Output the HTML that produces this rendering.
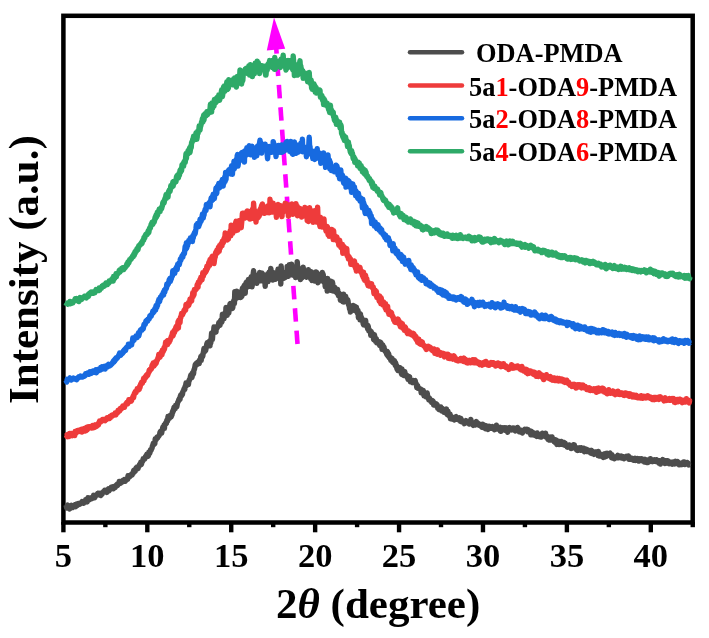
<!DOCTYPE html>
<html><head><meta charset="utf-8"><style>
html,body{margin:0;padding:0;background:#fff;}
body{width:709px;height:638px;overflow:hidden;position:relative;}
svg{position:absolute;left:0;top:0;will-change:transform;}
.tl{font-family:"Liberation Serif",serif;font-weight:bold;font-size:34.5px;fill:#000;}
.ax{font-family:"Liberation Serif",serif;font-weight:bold;font-size:43px;fill:#000;}
.lg{font-family:"Liberation Serif",serif;font-weight:bold;font-size:26.4px;fill:#000;}
.r{fill:#ff0000;}
</style></head><body>
<svg width="709" height="638" viewBox="0 0 709 638">
<rect x="63.4" y="15.8" width="629.3" height="506.7" fill="none" stroke="#000" stroke-width="4.5"/>
<line x1="63.40" y1="522" x2="63.40" y2="532.3" stroke="#000" stroke-width="4.4"/>
<line x1="105.36" y1="522" x2="105.36" y2="527.2" stroke="#000" stroke-width="4.4"/>
<line x1="147.31" y1="522" x2="147.31" y2="532.3" stroke="#000" stroke-width="4.4"/>
<line x1="189.27" y1="522" x2="189.27" y2="527.2" stroke="#000" stroke-width="4.4"/>
<line x1="231.23" y1="522" x2="231.23" y2="532.3" stroke="#000" stroke-width="4.4"/>
<line x1="273.19" y1="522" x2="273.19" y2="527.2" stroke="#000" stroke-width="4.4"/>
<line x1="315.14" y1="522" x2="315.14" y2="532.3" stroke="#000" stroke-width="4.4"/>
<line x1="357.10" y1="522" x2="357.10" y2="527.2" stroke="#000" stroke-width="4.4"/>
<line x1="399.06" y1="522" x2="399.06" y2="532.3" stroke="#000" stroke-width="4.4"/>
<line x1="441.01" y1="522" x2="441.01" y2="527.2" stroke="#000" stroke-width="4.4"/>
<line x1="482.97" y1="522" x2="482.97" y2="532.3" stroke="#000" stroke-width="4.4"/>
<line x1="524.93" y1="522" x2="524.93" y2="527.2" stroke="#000" stroke-width="4.4"/>
<line x1="566.89" y1="522" x2="566.89" y2="532.3" stroke="#000" stroke-width="4.4"/>
<line x1="608.84" y1="522" x2="608.84" y2="527.2" stroke="#000" stroke-width="4.4"/>
<line x1="650.80" y1="522" x2="650.80" y2="532.3" stroke="#000" stroke-width="4.4"/>
<line x1="692.76" y1="522" x2="692.76" y2="527.2" stroke="#000" stroke-width="4.4"/>
<text x="63.40" y="566.8" text-anchor="middle" class="tl">5</text>
<text x="147.31" y="566.8" text-anchor="middle" class="tl">10</text>
<text x="231.23" y="566.8" text-anchor="middle" class="tl">15</text>
<text x="315.14" y="566.8" text-anchor="middle" class="tl">20</text>
<text x="399.06" y="566.8" text-anchor="middle" class="tl">25</text>
<text x="482.97" y="566.8" text-anchor="middle" class="tl">30</text>
<text x="566.89" y="566.8" text-anchor="middle" class="tl">35</text>
<text x="650.80" y="566.8" text-anchor="middle" class="tl">40</text>
<line x1="276.20" y1="48.00" x2="276.61" y2="53.70" stroke="#ff00ff" stroke-width="4.6"/>
<line x1="277.25" y1="62.63" x2="278.21" y2="76.03" stroke="#ff00ff" stroke-width="4.6"/>
<line x1="278.86" y1="84.96" x2="279.82" y2="98.36" stroke="#ff00ff" stroke-width="4.6"/>
<line x1="280.46" y1="107.29" x2="281.43" y2="120.69" stroke="#ff00ff" stroke-width="4.6"/>
<line x1="282.07" y1="129.62" x2="283.04" y2="143.02" stroke="#ff00ff" stroke-width="4.6"/>
<line x1="283.68" y1="151.95" x2="284.65" y2="165.35" stroke="#ff00ff" stroke-width="4.6"/>
<line x1="285.29" y1="174.28" x2="286.25" y2="187.68" stroke="#ff00ff" stroke-width="4.6"/>
<line x1="286.90" y1="196.61" x2="287.86" y2="210.01" stroke="#ff00ff" stroke-width="4.6"/>
<line x1="288.50" y1="218.94" x2="289.47" y2="232.34" stroke="#ff00ff" stroke-width="4.6"/>
<line x1="290.11" y1="241.27" x2="291.08" y2="254.67" stroke="#ff00ff" stroke-width="4.6"/>
<line x1="291.72" y1="263.60" x2="292.68" y2="277.00" stroke="#ff00ff" stroke-width="4.6"/>
<line x1="293.33" y1="285.93" x2="294.29" y2="299.33" stroke="#ff00ff" stroke-width="4.6"/>
<line x1="294.93" y1="308.26" x2="295.90" y2="321.66" stroke="#ff00ff" stroke-width="4.6"/>
<line x1="296.54" y1="330.59" x2="297.51" y2="343.99" stroke="#ff00ff" stroke-width="4.6"/>
<polygon points="274,17.5 285.2,48.8 266.8,50.6" fill="#ff00ff"/>
<path d="M66.0,505.1 L66.4,506.5 L66.8,508.1 L67.2,505.7 L67.6,505.2 L68.0,506.8 L68.4,507.8 L68.8,507.2 L69.2,507.8 L69.6,509.0 L70.0,506.0 L70.4,507.0 L70.8,505.7 L71.2,507.3 L71.6,505.3 L72.0,505.6 L72.4,506.8 L72.8,507.4 L73.2,506.6 L73.6,506.7 L74.0,506.4 L74.4,505.6 L74.8,504.8 L75.2,506.3 L75.6,506.7 L76.0,506.2 L76.4,505.9 L76.8,503.9 L77.2,504.6 L77.6,505.2 L78.0,504.1 L78.4,503.5 L78.8,503.6 L79.2,504.2 L79.6,503.6 L80.0,504.1 L80.4,502.9 L80.8,502.9 L81.2,503.4 L81.6,502.2 L82.0,501.7 L82.4,502.3 L82.8,501.8 L83.2,501.9 L83.6,503.2 L84.0,502.6 L84.4,502.0 L84.8,501.9 L85.2,501.5 L85.6,499.8 L86.0,500.2 L86.4,500.5 L86.8,500.5 L87.2,501.9 L87.6,500.3 L88.0,497.7 L88.4,499.6 L88.8,499.0 L89.2,499.9 L89.6,498.5 L90.0,498.0 L90.4,499.1 L90.8,498.0 L91.2,498.7 L91.6,498.3 L92.0,498.5 L92.4,498.2 L92.8,497.2 L93.2,497.2 L93.6,495.3 L94.0,497.7 L94.4,497.2 L94.8,497.6 L95.2,496.6 L95.6,496.0 L96.0,495.1 L96.4,495.4 L96.8,495.2 L97.2,494.6 L97.6,493.6 L98.0,494.2 L98.4,493.2 L98.8,494.2 L99.2,493.6 L99.6,493.4 L100.0,495.1 L100.4,494.9 L100.8,495.5 L101.2,494.2 L101.6,493.5 L102.0,494.4 L102.4,492.7 L102.8,492.4 L103.2,492.2 L103.6,491.4 L104.0,491.2 L104.4,490.8 L104.8,490.1 L105.2,490.1 L105.6,491.0 L106.0,490.5 L106.4,490.7 L106.8,492.4 L107.2,491.4 L107.6,491.2 L108.0,489.7 L108.4,488.9 L108.8,490.4 L109.2,490.6 L109.6,489.8 L110.0,489.1 L110.4,489.0 L110.8,488.6 L111.2,487.3 L111.6,487.9 L112.0,488.0 L112.4,487.8 L112.8,486.9 L113.2,488.8 L113.6,487.6 L114.0,487.3 L114.4,487.7 L114.8,486.8 L115.2,487.4 L115.6,485.7 L116.0,485.3 L116.4,485.0 L116.8,485.7 L117.2,484.3 L117.6,485.4 L118.0,484.2 L118.4,484.1 L118.8,483.4 L119.2,481.5 L119.6,483.7 L120.0,482.4 L120.4,481.9 L120.8,483.1 L121.2,482.1 L121.6,481.9 L122.0,482.0 L122.4,480.8 L122.8,481.8 L123.2,480.2 L123.6,481.2 L124.0,480.4 L124.4,479.7 L124.8,481.1 L125.2,481.2 L125.6,479.8 L126.0,479.4 L126.4,480.1 L126.8,478.7 L127.2,478.5 L127.6,479.4 L128.0,475.8 L128.4,477.1 L128.8,477.2 L129.2,476.4 L129.6,475.7 L130.0,476.6 L130.4,476.0 L130.8,474.9 L131.2,474.6 L131.6,474.1 L132.0,475.1 L132.4,474.2 L132.8,473.3 L133.2,473.2 L133.6,470.7 L134.0,470.1 L134.4,470.0 L134.8,470.3 L135.2,471.2 L135.6,469.8 L136.0,468.1 L136.4,469.2 L136.8,468.7 L137.2,467.0 L137.6,468.0 L138.0,468.6 L138.4,467.1 L138.8,466.7 L139.2,465.7 L139.6,464.4 L140.0,464.8 L140.4,464.7 L140.8,462.2 L141.2,464.6 L141.6,463.7 L142.0,461.4 L142.4,461.1 L142.8,461.2 L143.2,458.6 L143.6,459.6 L144.0,459.1 L144.4,459.2 L144.8,459.0 L145.2,457.0 L145.6,457.4 L146.0,455.9 L146.4,455.5 L146.8,454.3 L147.2,454.3 L147.6,454.4 L148.0,456.3 L148.4,455.7 L148.8,452.3 L149.2,453.3 L149.6,453.4 L150.0,452.4 L150.4,450.0 L150.8,450.5 L151.2,450.0 L151.6,448.5 L152.0,448.4 L152.4,446.0 L152.8,445.8 L153.2,443.6 L153.6,445.0 L154.0,443.1 L154.4,443.0 L154.8,443.9 L155.2,439.0 L155.6,439.4 L156.0,439.7 L156.4,439.2 L156.8,437.5 L157.2,437.0 L157.6,437.9 L158.0,436.6 L158.4,436.5 L158.8,436.2 L159.2,435.3 L159.6,434.7 L160.0,432.3 L160.4,431.6 L160.8,432.8 L161.2,432.4 L161.6,433.1 L162.0,431.1 L162.4,429.5 L162.8,427.3 L163.2,429.2 L163.6,428.5 L164.0,425.2 L164.4,428.4 L164.8,424.4 L165.2,424.5 L165.6,422.9 L166.0,423.0 L166.4,423.3 L166.8,420.3 L167.2,419.6 L167.6,421.1 L168.0,416.4 L168.4,419.1 L168.8,418.6 L169.2,418.5 L169.6,418.0 L170.0,416.9 L170.4,415.2 L170.8,416.7 L171.2,416.8 L171.6,415.4 L172.0,415.0 L172.4,411.8 L172.8,412.4 L173.2,409.8 L173.6,410.8 L174.0,407.4 L174.4,407.0 L174.8,407.3 L175.2,408.7 L175.6,405.5 L176.0,406.5 L176.4,405.7 L176.8,406.7 L177.2,404.6 L177.6,402.7 L178.0,401.9 L178.4,401.2 L178.8,399.7 L179.2,398.9 L179.6,398.0 L180.0,399.5 L180.4,395.9 L180.8,394.9 L181.2,394.6 L181.6,395.9 L182.0,393.5 L182.4,394.5 L182.8,392.1 L183.2,391.1 L183.6,390.5 L184.0,388.8 L184.4,389.5 L184.8,389.5 L185.2,386.1 L185.6,386.2 L186.0,383.0 L186.4,385.7 L186.8,385.0 L187.2,382.9 L187.6,383.4 L188.0,384.4 L188.4,384.5 L188.8,381.7 L189.2,379.9 L189.6,380.0 L190.0,378.9 L190.4,376.6 L190.8,375.1 L191.2,376.3 L191.6,377.5 L192.0,377.5 L192.4,373.0 L192.8,372.4 L193.2,374.5 L193.6,373.3 L194.0,369.5 L194.4,369.5 L194.8,367.3 L195.2,364.9 L195.6,364.0 L196.0,364.3 L196.4,363.2 L196.8,364.8 L197.2,363.8 L197.6,362.3 L198.0,362.5 L198.4,362.0 L198.8,363.4 L199.2,363.5 L199.6,360.1 L200.0,359.5 L200.4,359.9 L200.8,356.7 L201.2,360.4 L201.6,355.9 L202.0,357.7 L202.4,354.9 L202.8,356.2 L203.2,353.2 L203.6,350.9 L204.0,348.4 L204.4,351.9 L204.8,348.1 L205.2,349.8 L205.6,350.6 L206.0,348.7 L206.4,346.6 L206.8,344.0 L207.2,342.8 L207.6,344.0 L208.0,344.0 L208.4,342.8 L208.8,343.1 L209.2,341.5 L209.6,345.1 L210.0,345.7 L210.4,340.1 L210.8,343.1 L211.2,338.6 L211.6,333.0 L212.0,333.9 L212.4,339.5 L212.8,334.2 L213.2,332.4 L213.6,331.7 L214.0,327.0 L214.4,330.3 L214.8,332.4 L215.2,331.2 L215.6,330.3 L216.0,332.1 L216.4,326.6 L216.8,328.4 L217.2,327.9 L217.6,327.1 L218.0,325.4 L218.4,325.4 L218.8,322.7 L219.2,322.8 L219.6,324.9 L220.0,325.2 L220.4,321.4 L220.8,320.2 L221.2,320.8 L221.6,322.4 L222.0,321.6 L222.4,314.1 L222.8,314.6 L223.2,314.4 L223.6,315.1 L224.0,318.6 L224.4,314.7 L224.8,316.5 L225.2,313.9 L225.6,314.2 L226.0,307.4 L226.4,310.1 L226.8,309.8 L227.2,315.4 L227.6,310.6 L228.0,309.6 L228.4,312.2 L228.8,313.0 L229.2,308.4 L229.6,306.0 L230.0,304.0 L230.4,303.5 L230.8,306.3 L231.2,306.5 L231.6,303.6 L232.0,307.8 L232.4,308.3 L232.8,307.4 L233.2,303.4 L233.6,301.4 L234.0,300.1 L234.4,303.6 L234.8,291.8 L235.2,299.7 L235.6,295.5 L236.0,293.4 L236.4,296.4 L236.8,291.3 L237.2,297.7 L237.6,297.2 L238.0,297.1 L238.4,294.5 L238.8,293.7 L239.2,296.9 L239.6,295.7 L240.0,295.0 L240.4,297.6 L240.8,296.0 L241.2,297.2 L241.6,290.7 L242.0,296.0 L242.4,288.1 L242.8,289.1 L243.2,289.3 L243.6,286.7 L244.0,291.1 L244.4,285.2 L244.8,286.9 L245.2,293.3 L245.6,284.6 L246.0,282.8 L246.4,286.6 L246.8,281.9 L247.2,285.1 L247.6,283.1 L248.0,286.8 L248.4,279.4 L248.8,286.2 L249.2,282.2 L249.6,283.1 L250.0,282.2 L250.4,282.1 L250.8,282.2 L251.2,276.6 L251.6,281.0 L252.0,286.8 L252.4,283.9 L252.8,284.0 L253.2,273.9 L253.6,270.8 L254.0,278.1 L254.4,274.2 L254.8,282.9 L255.2,277.7 L255.6,280.3 L256.0,279.6 L256.4,283.2 L256.8,283.3 L257.2,278.0 L257.6,279.5 L258.0,281.3 L258.4,276.6 L258.8,279.1 L259.2,277.9 L259.6,272.5 L260.0,278.6 L260.4,280.8 L260.8,276.7 L261.2,280.8 L261.6,274.8 L262.0,273.2 L262.4,273.7 L262.8,274.3 L263.2,277.4 L263.6,279.2 L264.0,275.1 L264.4,282.1 L264.8,280.9 L265.2,286.3 L265.6,277.5 L266.0,278.9 L266.4,276.0 L266.8,280.1 L267.2,276.4 L267.6,274.0 L268.0,281.6 L268.4,277.9 L268.8,278.7 L269.2,272.0 L269.6,276.5 L270.0,271.1 L270.4,277.4 L270.8,268.4 L271.2,271.9 L271.6,279.5 L272.0,272.3 L272.4,277.2 L272.8,280.0 L273.2,272.4 L273.6,278.6 L274.0,273.2 L274.4,275.8 L274.8,275.8 L275.2,279.4 L275.6,276.2 L276.0,276.3 L276.4,273.3 L276.8,275.3 L277.2,277.4 L277.6,272.6 L278.0,269.3 L278.4,274.8 L278.8,277.1 L279.2,276.1 L279.6,278.8 L280.0,277.5 L280.4,273.5 L280.8,284.0 L281.2,266.0 L281.6,275.0 L282.0,278.8 L282.4,273.3 L282.8,273.4 L283.2,276.2 L283.6,272.5 L284.0,278.4 L284.4,276.1 L284.8,272.9 L285.2,277.6 L285.6,272.9 L286.0,272.4 L286.4,276.1 L286.8,275.7 L287.2,266.4 L287.6,270.7 L288.0,271.0 L288.4,276.4 L288.8,271.6 L289.2,264.6 L289.6,265.4 L290.0,268.8 L290.4,273.0 L290.8,272.0 L291.2,268.7 L291.6,264.1 L292.0,273.2 L292.4,274.9 L292.8,272.8 L293.2,267.8 L293.6,271.0 L294.0,274.7 L294.4,268.9 L294.8,270.3 L295.2,275.1 L295.6,277.5 L296.0,268.4 L296.4,269.2 L296.8,272.4 L297.2,261.6 L297.6,266.2 L298.0,267.4 L298.4,271.4 L298.8,277.2 L299.2,275.1 L299.6,276.2 L300.0,274.3 L300.4,279.6 L300.8,278.4 L301.2,278.4 L301.6,278.1 L302.0,276.1 L302.4,274.1 L302.8,276.1 L303.2,267.1 L303.6,272.7 L304.0,275.0 L304.4,275.3 L304.8,271.2 L305.2,275.9 L305.6,272.3 L306.0,273.1 L306.4,277.3 L306.8,271.3 L307.2,274.2 L307.6,275.8 L308.0,273.6 L308.4,269.7 L308.8,275.8 L309.2,274.9 L309.6,274.5 L310.0,277.4 L310.4,277.6 L310.8,279.1 L311.2,271.6 L311.6,278.3 L312.0,280.4 L312.4,278.9 L312.8,280.2 L313.2,277.0 L313.6,276.2 L314.0,273.0 L314.4,273.2 L314.8,281.0 L315.2,275.0 L315.6,274.5 L316.0,271.9 L316.4,277.1 L316.8,272.5 L317.2,275.1 L317.6,277.2 L318.0,282.7 L318.4,273.9 L318.8,278.8 L319.2,281.0 L319.6,278.2 L320.0,276.9 L320.4,279.2 L320.8,280.8 L321.2,275.6 L321.6,275.3 L322.0,276.9 L322.4,272.5 L322.8,275.7 L323.2,274.4 L323.6,278.5 L324.0,280.6 L324.4,282.6 L324.8,279.1 L325.2,286.6 L325.6,281.1 L326.0,280.6 L326.4,283.3 L326.8,284.5 L327.2,291.1 L327.6,278.4 L328.0,287.0 L328.4,281.3 L328.8,286.3 L329.2,289.2 L329.6,284.7 L330.0,286.9 L330.4,290.2 L330.8,281.3 L331.2,283.8 L331.6,286.5 L332.0,287.7 L332.4,282.0 L332.8,284.1 L333.2,291.1 L333.6,288.6 L334.0,289.2 L334.4,287.6 L334.8,287.5 L335.2,291.5 L335.6,288.4 L336.0,289.1 L336.4,291.6 L336.8,292.8 L337.2,291.8 L337.6,289.5 L338.0,293.2 L338.4,295.6 L338.8,293.4 L339.2,293.2 L339.6,294.9 L340.0,296.8 L340.4,300.2 L340.8,297.5 L341.2,295.1 L341.6,295.8 L342.0,298.6 L342.4,299.1 L342.8,301.7 L343.2,297.9 L343.6,294.3 L344.0,302.0 L344.4,300.0 L344.8,301.5 L345.2,301.5 L345.6,296.1 L346.0,300.3 L346.4,298.3 L346.8,302.0 L347.2,300.3 L347.6,299.7 L348.0,300.9 L348.4,304.2 L348.8,305.2 L349.2,306.2 L349.6,309.0 L350.0,306.4 L350.4,312.1 L350.8,306.6 L351.2,310.0 L351.6,306.9 L352.0,306.1 L352.4,308.2 L352.8,309.8 L353.2,305.5 L353.6,309.7 L354.0,305.9 L354.4,310.6 L354.8,306.1 L355.2,308.6 L355.6,308.7 L356.0,310.4 L356.4,307.1 L356.8,311.7 L357.2,311.9 L357.6,313.5 L358.0,310.5 L358.4,317.6 L358.8,313.7 L359.2,317.5 L359.6,313.4 L360.0,319.9 L360.4,313.9 L360.8,317.7 L361.2,316.9 L361.6,320.3 L362.0,318.4 L362.4,320.4 L362.8,321.6 L363.2,323.9 L363.6,324.7 L364.0,324.4 L364.4,325.0 L364.8,321.4 L365.2,321.9 L365.6,320.4 L366.0,323.7 L366.4,325.1 L366.8,324.9 L367.2,326.6 L367.6,328.8 L368.0,325.5 L368.4,327.2 L368.8,330.9 L369.2,331.0 L369.6,331.3 L370.0,330.6 L370.4,331.7 L370.8,335.4 L371.2,331.5 L371.6,333.5 L372.0,333.1 L372.4,334.6 L372.8,334.0 L373.2,335.0 L373.6,339.6 L374.0,339.9 L374.4,334.6 L374.8,338.7 L375.2,337.4 L375.6,341.4 L376.0,341.0 L376.4,338.9 L376.8,342.9 L377.2,341.3 L377.6,341.7 L378.0,341.5 L378.4,342.1 L378.8,343.6 L379.2,343.8 L379.6,345.4 L380.0,342.0 L380.4,344.3 L380.8,342.3 L381.2,344.9 L381.6,343.7 L382.0,349.4 L382.4,348.8 L382.8,344.9 L383.2,347.5 L383.6,347.4 L384.0,347.1 L384.4,349.9 L384.8,350.7 L385.2,351.3 L385.6,351.8 L386.0,352.0 L386.4,353.1 L386.8,354.6 L387.2,351.4 L387.6,352.0 L388.0,356.3 L388.4,353.4 L388.8,354.3 L389.2,357.6 L389.6,357.5 L390.0,357.2 L390.4,358.1 L390.8,360.3 L391.2,358.0 L391.6,359.1 L392.0,358.3 L392.4,361.9 L392.8,362.3 L393.2,360.4 L393.6,362.6 L394.0,362.5 L394.4,360.7 L394.8,362.4 L395.2,365.4 L395.6,362.6 L396.0,365.1 L396.4,365.0 L396.8,368.1 L397.2,369.4 L397.6,368.8 L398.0,370.6 L398.4,369.8 L398.8,367.7 L399.2,369.4 L399.6,368.5 L400.0,367.6 L400.4,371.3 L400.8,369.2 L401.2,373.0 L401.6,374.2 L402.0,369.0 L402.4,372.4 L402.8,374.9 L403.2,373.0 L403.6,373.3 L404.0,375.5 L404.4,373.8 L404.8,371.7 L405.2,375.7 L405.6,375.3 L406.0,374.7 L406.4,374.9 L406.8,375.5 L407.2,377.3 L407.6,377.0 L408.0,379.3 L408.4,378.7 L408.8,377.7 L409.2,376.6 L409.6,376.8 L410.0,380.1 L410.4,381.8 L410.8,380.0 L411.2,380.1 L411.6,381.4 L412.0,381.6 L412.4,382.6 L412.8,381.8 L413.2,381.8 L413.6,380.6 L414.0,381.4 L414.4,382.7 L414.8,380.8 L415.2,380.6 L415.6,383.3 L416.0,383.1 L416.4,384.6 L416.8,387.6 L417.2,386.0 L417.6,385.5 L418.0,388.4 L418.4,387.8 L418.8,388.0 L419.2,388.8 L419.6,388.8 L420.0,388.9 L420.4,389.5 L420.8,389.0 L421.2,392.9 L421.6,392.4 L422.0,391.6 L422.4,390.7 L422.8,391.2 L423.2,390.4 L423.6,393.5 L424.0,395.7 L424.4,393.2 L424.8,394.3 L425.2,393.8 L425.6,395.9 L426.0,396.7 L426.4,394.8 L426.8,395.3 L427.2,393.0 L427.6,396.0 L428.0,398.0 L428.4,397.2 L428.8,399.7 L429.2,399.4 L429.6,398.3 L430.0,400.1 L430.4,400.1 L430.8,401.3 L431.2,400.0 L431.6,402.4 L432.0,402.3 L432.4,400.6 L432.8,401.0 L433.2,401.4 L433.6,405.0 L434.0,404.2 L434.4,404.1 L434.8,405.0 L435.2,405.1 L435.6,404.7 L436.0,404.6 L436.4,403.8 L436.8,406.4 L437.2,404.9 L437.6,408.2 L438.0,407.2 L438.4,407.7 L438.8,409.5 L439.2,407.2 L439.6,408.3 L440.0,407.5 L440.4,410.0 L440.8,407.0 L441.2,408.3 L441.6,408.7 L442.0,410.9 L442.4,408.5 L442.8,409.2 L443.2,411.1 L443.6,410.8 L444.0,412.3 L444.4,411.7 L444.8,410.6 L445.2,412.0 L445.6,409.4 L446.0,410.2 L446.4,409.0 L446.8,414.0 L447.2,411.9 L447.6,414.8 L448.0,411.3 L448.4,414.2 L448.8,415.6 L449.2,413.8 L449.6,415.6 L450.0,414.0 L450.4,418.7 L450.8,417.6 L451.2,416.3 L451.6,418.3 L452.0,418.9 L452.4,418.2 L452.8,417.4 L453.2,418.9 L453.6,419.4 L454.0,418.7 L454.4,420.0 L454.8,417.6 L455.2,417.2 L455.6,416.8 L456.0,416.6 L456.4,419.4 L456.8,418.1 L457.2,418.2 L457.6,417.8 L458.0,418.4 L458.4,419.7 L458.8,417.9 L459.2,417.7 L459.6,419.2 L460.0,419.8 L460.4,421.3 L460.8,418.5 L461.2,419.6 L461.6,421.8 L462.0,420.4 L462.4,421.2 L462.8,421.4 L463.2,422.2 L463.6,421.8 L464.0,422.9 L464.4,423.7 L464.8,422.7 L465.2,422.2 L465.6,421.4 L466.0,420.6 L466.4,422.7 L466.8,422.6 L467.2,422.6 L467.6,421.6 L468.0,422.2 L468.4,422.3 L468.8,423.4 L469.2,424.0 L469.6,422.5 L470.0,422.5 L470.4,422.4 L470.8,419.4 L471.2,421.3 L471.6,422.9 L472.0,423.5 L472.4,424.0 L472.8,424.7 L473.2,425.3 L473.6,422.8 L474.0,424.3 L474.4,425.0 L474.8,423.1 L475.2,425.1 L475.6,422.9 L476.0,423.3 L476.4,421.6 L476.8,423.7 L477.2,424.2 L477.6,423.6 L478.0,423.3 L478.4,423.8 L478.8,425.2 L479.2,425.3 L479.6,424.2 L480.0,424.2 L480.4,424.9 L480.8,426.0 L481.2,425.6 L481.6,426.0 L482.0,427.2 L482.4,425.5 L482.8,424.4 L483.2,427.0 L483.6,426.3 L484.0,427.8 L484.4,426.2 L484.8,425.4 L485.2,426.8 L485.6,428.7 L486.0,425.6 L486.4,428.8 L486.8,428.6 L487.2,427.3 L487.6,428.8 L488.0,429.3 L488.4,427.2 L488.8,426.3 L489.2,426.3 L489.6,427.9 L490.0,427.9 L490.4,427.4 L490.8,427.3 L491.2,428.2 L491.6,427.5 L492.0,427.0 L492.4,426.6 L492.8,427.9 L493.2,427.8 L493.6,428.2 L494.0,428.5 L494.4,429.6 L494.8,427.6 L495.2,426.8 L495.6,428.5 L496.0,426.8 L496.4,425.2 L496.8,427.8 L497.2,429.1 L497.6,427.4 L498.0,428.1 L498.4,428.7 L498.8,428.1 L499.2,427.9 L499.6,427.7 L500.0,427.4 L500.4,431.2 L500.8,431.3 L501.2,430.4 L501.6,430.0 L502.0,429.7 L502.4,428.9 L502.8,427.9 L503.2,429.2 L503.6,429.2 L504.0,428.4 L504.4,427.9 L504.8,429.4 L505.2,430.2 L505.6,427.9 L506.0,430.0 L506.4,427.9 L506.8,428.2 L507.2,431.0 L507.6,432.2 L508.0,431.3 L508.4,430.7 L508.8,429.2 L509.2,428.8 L509.6,427.5 L510.0,428.9 L510.4,429.2 L510.8,429.2 L511.2,429.2 L511.6,429.8 L512.0,429.1 L512.4,429.5 L512.8,428.1 L513.2,428.9 L513.6,429.4 L514.0,428.1 L514.4,430.4 L514.8,430.5 L515.2,430.9 L515.6,429.1 L516.0,429.9 L516.4,430.4 L516.8,428.9 L517.2,430.1 L517.6,427.5 L518.0,428.2 L518.4,430.5 L518.8,431.2 L519.2,431.8 L519.6,431.7 L520.0,431.3 L520.4,430.9 L520.8,430.1 L521.2,432.2 L521.6,431.5 L522.0,432.1 L522.4,433.0 L522.8,431.7 L523.2,430.4 L523.6,430.5 L524.0,430.5 L524.4,429.8 L524.8,429.3 L525.2,430.4 L525.6,430.0 L526.0,430.4 L526.4,429.3 L526.8,429.8 L527.2,430.4 L527.6,431.8 L528.0,429.6 L528.4,430.8 L528.8,431.5 L529.2,430.7 L529.6,432.1 L530.0,432.8 L530.4,432.0 L530.8,434.9 L531.2,431.2 L531.6,433.4 L532.0,432.6 L532.4,433.6 L532.8,432.3 L533.2,432.9 L533.6,434.9 L534.0,433.5 L534.4,433.7 L534.8,434.7 L535.2,435.0 L535.6,433.7 L536.0,435.8 L536.4,434.1 L536.8,436.4 L537.2,433.0 L537.6,433.6 L538.0,434.6 L538.4,435.4 L538.8,434.9 L539.2,435.3 L539.6,436.8 L540.0,436.8 L540.4,436.1 L540.8,435.9 L541.2,437.1 L541.6,436.0 L542.0,435.6 L542.4,433.1 L542.8,435.4 L543.2,434.2 L543.6,435.0 L544.0,435.9 L544.4,436.3 L544.8,436.3 L545.2,436.7 L545.6,433.3 L546.0,436.8 L546.4,436.1 L546.8,435.9 L547.2,436.4 L547.6,438.4 L548.0,439.3 L548.4,438.5 L548.8,439.8 L549.2,440.1 L549.6,440.1 L550.0,438.7 L550.4,437.1 L550.8,437.9 L551.2,440.1 L551.6,438.4 L552.0,436.9 L552.4,440.3 L552.8,440.0 L553.2,438.8 L553.6,440.0 L554.0,441.5 L554.4,441.3 L554.8,442.3 L555.2,442.0 L555.6,442.7 L556.0,439.8 L556.4,442.7 L556.8,444.4 L557.2,442.4 L557.6,442.3 L558.0,443.1 L558.4,441.2 L558.8,444.5 L559.2,444.5 L559.6,442.2 L560.0,442.4 L560.4,441.8 L560.8,442.8 L561.2,441.4 L561.6,443.8 L562.0,443.6 L562.4,442.4 L562.8,444.6 L563.2,443.8 L563.6,444.0 L564.0,442.4 L564.4,444.1 L564.8,445.2 L565.2,443.2 L565.6,445.4 L566.0,444.8 L566.4,445.3 L566.8,445.3 L567.2,447.1 L567.6,447.2 L568.0,446.0 L568.4,446.1 L568.8,446.2 L569.2,444.9 L569.6,446.1 L570.0,447.2 L570.4,447.6 L570.8,445.9 L571.2,448.5 L571.6,448.4 L572.0,447.2 L572.4,448.1 L572.8,446.5 L573.2,447.1 L573.6,444.8 L574.0,447.2 L574.4,445.0 L574.8,448.1 L575.2,447.1 L575.6,447.6 L576.0,449.2 L576.4,448.4 L576.8,450.2 L577.2,450.4 L577.6,448.3 L578.0,449.3 L578.4,450.2 L578.8,448.0 L579.2,448.7 L579.6,448.2 L580.0,448.5 L580.4,448.7 L580.8,450.3 L581.2,447.6 L581.6,449.8 L582.0,450.0 L582.4,448.8 L582.8,449.8 L583.2,449.8 L583.6,448.2 L584.0,450.4 L584.4,451.7 L584.8,449.5 L585.2,448.8 L585.6,449.0 L586.0,449.6 L586.4,449.4 L586.8,451.6 L587.2,449.6 L587.6,450.1 L588.0,451.0 L588.4,450.2 L588.8,451.7 L589.2,451.8 L589.6,451.9 L590.0,451.1 L590.4,452.9 L590.8,450.5 L591.2,450.9 L591.6,450.6 L592.0,453.6 L592.4,452.2 L592.8,453.1 L593.2,452.0 L593.6,453.7 L594.0,454.3 L594.4,453.0 L594.8,453.1 L595.2,452.0 L595.6,452.9 L596.0,452.0 L596.4,452.3 L596.8,452.6 L597.2,453.7 L597.6,453.5 L598.0,455.5 L598.4,451.5 L598.8,454.8 L599.2,456.0 L599.6,453.4 L600.0,455.0 L600.4,455.5 L600.8,455.5 L601.2,454.5 L601.6,456.3 L602.0,455.7 L602.4,455.3 L602.8,456.9 L603.2,457.3 L603.6,454.7 L604.0,454.2 L604.4,456.5 L604.8,455.3 L605.2,456.9 L605.6,455.0 L606.0,453.4 L606.4,456.4 L606.8,454.5 L607.2,453.3 L607.6,454.5 L608.0,455.3 L608.4,454.6 L608.8,454.4 L609.2,454.7 L609.6,453.5 L610.0,453.2 L610.4,454.4 L610.8,455.2 L611.2,455.7 L611.6,457.6 L612.0,454.7 L612.4,458.1 L612.8,457.0 L613.2,456.9 L613.6,457.8 L614.0,457.6 L614.4,458.7 L614.8,456.9 L615.2,457.2 L615.6,457.1 L616.0,457.8 L616.4,457.0 L616.8,457.0 L617.2,456.0 L617.6,457.7 L618.0,455.3 L618.4,457.8 L618.8,457.3 L619.2,456.2 L619.6,457.5 L620.0,456.4 L620.4,457.6 L620.8,456.9 L621.2,456.0 L621.6,457.9 L622.0,457.5 L622.4,457.8 L622.8,457.2 L623.2,456.9 L623.6,457.7 L624.0,458.7 L624.4,456.9 L624.8,457.8 L625.2,456.9 L625.6,456.8 L626.0,457.1 L626.4,456.3 L626.8,457.6 L627.2,457.7 L627.6,457.0 L628.0,458.1 L628.4,455.9 L628.8,459.3 L629.2,459.2 L629.6,458.9 L630.0,459.2 L630.4,458.1 L630.8,458.6 L631.2,458.4 L631.6,459.3 L632.0,459.4 L632.4,458.4 L632.8,459.8 L633.2,460.1 L633.6,458.9 L634.0,458.9 L634.4,458.9 L634.8,459.7 L635.2,458.3 L635.6,460.4 L636.0,460.3 L636.4,459.3 L636.8,459.3 L637.2,459.1 L637.6,458.5 L638.0,459.5 L638.4,459.9 L638.8,461.1 L639.2,460.8 L639.6,458.8 L640.0,460.6 L640.4,459.5 L640.8,459.2 L641.2,458.8 L641.6,459.3 L642.0,459.1 L642.4,459.7 L642.8,460.9 L643.2,460.8 L643.6,460.8 L644.0,460.7 L644.4,462.1 L644.8,461.6 L645.2,459.3 L645.6,461.4 L646.0,460.0 L646.4,460.4 L646.8,462.5 L647.2,460.2 L647.6,460.0 L648.0,460.1 L648.4,462.4 L648.8,460.8 L649.2,461.1 L649.6,461.5 L650.0,461.5 L650.4,458.7 L650.8,460.2 L651.2,460.4 L651.6,459.7 L652.0,460.6 L652.4,461.6 L652.8,460.1 L653.2,461.5 L653.6,460.7 L654.0,460.1 L654.4,459.7 L654.8,459.9 L655.2,460.2 L655.6,460.0 L656.0,461.4 L656.4,459.7 L656.8,460.6 L657.2,461.0 L657.6,460.9 L658.0,461.7 L658.4,460.7 L658.8,462.9 L659.2,460.7 L659.6,461.8 L660.0,462.5 L660.4,464.1 L660.8,463.3 L661.2,462.4 L661.6,463.0 L662.0,461.8 L662.4,461.0 L662.8,459.6 L663.2,461.9 L663.6,461.8 L664.0,461.0 L664.4,460.6 L664.8,463.5 L665.2,461.3 L665.6,461.5 L666.0,462.3 L666.4,463.1 L666.8,460.7 L667.2,461.9 L667.6,462.3 L668.0,460.8 L668.4,463.1 L668.8,462.4 L669.2,463.7 L669.6,462.1 L670.0,462.5 L670.4,463.5 L670.8,462.2 L671.2,463.5 L671.6,463.0 L672.0,462.7 L672.4,464.2 L672.8,463.7 L673.2,462.0 L673.6,463.7 L674.0,462.2 L674.4,462.3 L674.8,463.9 L675.2,462.9 L675.6,461.3 L676.0,463.3 L676.4,462.5 L676.8,462.1 L677.2,462.0 L677.6,461.6 L678.0,463.3 L678.4,464.2 L678.8,463.9 L679.2,464.8 L679.6,464.4 L680.0,464.2 L680.4,463.6 L680.8,464.0 L681.2,464.7 L681.6,462.9 L682.0,463.9 L682.4,464.4 L682.8,464.0 L683.2,463.7 L683.6,462.1 L684.0,462.4 L684.4,462.0 L684.8,464.6 L685.2,463.7 L685.6,463.8 L686.0,463.2 L686.4,463.1 L686.8,464.0 L687.2,462.4 L687.6,463.9 L688.0,463.2 L688.4,463.5 L688.8,465.0 L689.2,464.5 L689.6,464.8 L690.0,464.6" fill="none" stroke="#4d4d4d" stroke-width="5.4" stroke-linejoin="round" stroke-linecap="butt"/>
<path d="M66.0,435.5 L66.4,435.2 L66.8,436.2 L67.2,434.7 L67.6,436.7 L68.0,436.0 L68.4,435.4 L68.8,435.9 L69.2,436.4 L69.6,433.4 L70.0,434.6 L70.4,435.4 L70.8,433.7 L71.2,433.5 L71.6,433.7 L72.0,434.2 L72.4,435.7 L72.8,434.5 L73.2,433.2 L73.6,434.1 L74.0,434.9 L74.4,433.0 L74.8,435.6 L75.2,431.5 L75.6,433.1 L76.0,433.1 L76.4,432.6 L76.8,431.3 L77.2,432.1 L77.6,430.4 L78.0,431.5 L78.4,430.5 L78.8,430.9 L79.2,431.4 L79.6,430.2 L80.0,430.6 L80.4,429.9 L80.8,430.4 L81.2,430.2 L81.6,429.2 L82.0,432.1 L82.4,429.3 L82.8,429.1 L83.2,430.0 L83.6,429.4 L84.0,430.7 L84.4,428.6 L84.8,429.9 L85.2,431.0 L85.6,428.9 L86.0,428.7 L86.4,430.5 L86.8,427.1 L87.2,429.8 L87.6,426.9 L88.0,427.8 L88.4,428.5 L88.8,428.4 L89.2,426.7 L89.6,427.4 L90.0,427.2 L90.4,427.0 L90.8,427.1 L91.2,426.6 L91.6,428.1 L92.0,426.1 L92.4,425.7 L92.8,426.1 L93.2,427.8 L93.6,425.9 L94.0,426.3 L94.4,425.3 L94.8,427.4 L95.2,424.9 L95.6,425.5 L96.0,426.3 L96.4,425.3 L96.8,426.3 L97.2,425.0 L97.6,424.5 L98.0,423.8 L98.4,424.9 L98.8,422.7 L99.2,423.1 L99.6,421.1 L100.0,422.3 L100.4,421.7 L100.8,421.9 L101.2,421.2 L101.6,421.0 L102.0,420.4 L102.4,419.5 L102.8,420.6 L103.2,420.6 L103.6,419.4 L104.0,420.6 L104.4,420.3 L104.8,420.2 L105.2,420.6 L105.6,419.0 L106.0,418.8 L106.4,419.5 L106.8,419.3 L107.2,417.7 L107.6,418.0 L108.0,418.4 L108.4,418.2 L108.8,418.4 L109.2,418.2 L109.6,418.5 L110.0,416.4 L110.4,417.2 L110.8,417.3 L111.2,415.7 L111.6,415.3 L112.0,416.3 L112.4,415.8 L112.8,415.6 L113.2,414.8 L113.6,414.5 L114.0,414.8 L114.4,414.7 L114.8,415.0 L115.2,412.9 L115.6,413.3 L116.0,414.8 L116.4,413.8 L116.8,413.0 L117.2,412.2 L117.6,412.7 L118.0,410.4 L118.4,411.2 L118.8,411.5 L119.2,410.1 L119.6,411.1 L120.0,408.6 L120.4,409.9 L120.8,408.2 L121.2,408.2 L121.6,408.7 L122.0,407.7 L122.4,407.1 L122.8,406.0 L123.2,406.8 L123.6,407.2 L124.0,406.5 L124.4,407.3 L124.8,406.2 L125.2,405.0 L125.6,404.4 L126.0,403.5 L126.4,404.0 L126.8,402.5 L127.2,402.5 L127.6,403.8 L128.0,402.2 L128.4,402.1 L128.8,399.8 L129.2,401.3 L129.6,400.1 L130.0,400.8 L130.4,401.3 L130.8,400.6 L131.2,401.0 L131.6,400.4 L132.0,398.7 L132.4,397.6 L132.8,397.6 L133.2,396.0 L133.6,397.6 L134.0,395.0 L134.4,393.3 L134.8,393.6 L135.2,391.8 L135.6,392.7 L136.0,392.6 L136.4,390.7 L136.8,391.0 L137.2,388.7 L137.6,390.3 L138.0,390.3 L138.4,389.0 L138.8,388.8 L139.2,389.3 L139.6,386.5 L140.0,387.4 L140.4,385.2 L140.8,383.7 L141.2,384.3 L141.6,382.2 L142.0,382.1 L142.4,383.3 L142.8,381.4 L143.2,381.3 L143.6,378.5 L144.0,380.9 L144.4,378.0 L144.8,377.2 L145.2,378.2 L145.6,376.4 L146.0,377.2 L146.4,375.1 L146.8,374.8 L147.2,374.4 L147.6,375.4 L148.0,374.2 L148.4,373.1 L148.8,372.4 L149.2,370.3 L149.6,371.0 L150.0,369.4 L150.4,369.7 L150.8,369.3 L151.2,369.3 L151.6,368.3 L152.0,365.4 L152.4,366.6 L152.8,364.4 L153.2,363.1 L153.6,363.4 L154.0,366.0 L154.4,364.5 L154.8,363.8 L155.2,364.4 L155.6,361.7 L156.0,363.5 L156.4,362.4 L156.8,360.5 L157.2,360.3 L157.6,359.5 L158.0,357.7 L158.4,357.6 L158.8,354.4 L159.2,354.5 L159.6,356.0 L160.0,357.2 L160.4,355.1 L160.8,354.6 L161.2,352.4 L161.6,352.8 L162.0,354.8 L162.4,350.2 L162.8,351.3 L163.2,351.6 L163.6,350.2 L164.0,347.7 L164.4,349.3 L164.8,347.1 L165.2,345.8 L165.6,342.2 L166.0,345.0 L166.4,344.8 L166.8,342.6 L167.2,340.9 L167.6,344.5 L168.0,340.5 L168.4,342.1 L168.8,341.2 L169.2,342.4 L169.6,340.1 L170.0,340.5 L170.4,339.0 L170.8,338.3 L171.2,337.0 L171.6,335.9 L172.0,335.6 L172.4,332.8 L172.8,336.0 L173.2,335.2 L173.6,333.2 L174.0,330.6 L174.4,332.6 L174.8,331.4 L175.2,329.2 L175.6,328.2 L176.0,326.9 L176.4,326.3 L176.8,329.3 L177.2,328.0 L177.6,326.4 L178.0,321.6 L178.4,328.0 L178.8,320.2 L179.2,321.1 L179.6,320.8 L180.0,322.7 L180.4,317.5 L180.8,317.7 L181.2,316.0 L181.6,313.4 L182.0,314.9 L182.4,314.7 L182.8,314.2 L183.2,312.5 L183.6,312.6 L184.0,310.4 L184.4,310.2 L184.8,309.2 L185.2,309.9 L185.6,310.1 L186.0,304.5 L186.4,306.0 L186.8,304.4 L187.2,306.0 L187.6,306.2 L188.0,305.7 L188.4,302.8 L188.8,305.3 L189.2,303.3 L189.6,303.1 L190.0,299.1 L190.4,299.2 L190.8,299.0 L191.2,300.6 L191.6,300.9 L192.0,296.6 L192.4,297.3 L192.8,292.6 L193.2,296.4 L193.6,293.5 L194.0,294.8 L194.4,289.5 L194.8,290.0 L195.2,290.5 L195.6,289.1 L196.0,288.9 L196.4,289.0 L196.8,287.9 L197.2,284.6 L197.6,286.9 L198.0,287.2 L198.4,282.0 L198.8,281.9 L199.2,283.2 L199.6,281.1 L200.0,279.4 L200.4,281.5 L200.8,277.5 L201.2,277.8 L201.6,277.2 L202.0,279.9 L202.4,276.9 L202.8,272.8 L203.2,276.4 L203.6,275.0 L204.0,274.0 L204.4,273.2 L204.8,273.1 L205.2,270.1 L205.6,272.2 L206.0,271.2 L206.4,270.7 L206.8,266.5 L207.2,269.1 L207.6,268.0 L208.0,267.4 L208.4,264.6 L208.8,262.6 L209.2,264.0 L209.6,265.5 L210.0,259.4 L210.4,260.4 L210.8,260.8 L211.2,262.7 L211.6,257.6 L212.0,257.7 L212.4,256.3 L212.8,257.3 L213.2,258.8 L213.6,259.1 L214.0,263.6 L214.4,260.7 L214.8,257.4 L215.2,257.2 L215.6,252.6 L216.0,253.4 L216.4,251.9 L216.8,250.3 L217.2,253.2 L217.6,250.8 L218.0,250.7 L218.4,247.4 L218.8,248.1 L219.2,251.3 L219.6,245.5 L220.0,248.3 L220.4,247.4 L220.8,244.5 L221.2,243.6 L221.6,244.5 L222.0,245.7 L222.4,241.2 L222.8,240.9 L223.2,242.8 L223.6,241.9 L224.0,238.5 L224.4,240.4 L224.8,238.2 L225.2,233.0 L225.6,237.3 L226.0,236.2 L226.4,238.5 L226.8,234.9 L227.2,240.0 L227.6,235.2 L228.0,235.4 L228.4,239.1 L228.8,234.5 L229.2,234.6 L229.6,235.2 L230.0,231.5 L230.4,230.3 L230.8,235.8 L231.2,225.2 L231.6,229.3 L232.0,229.5 L232.4,227.4 L232.8,233.2 L233.2,230.1 L233.6,229.4 L234.0,226.0 L234.4,226.9 L234.8,228.7 L235.2,223.8 L235.6,222.9 L236.0,221.3 L236.4,230.6 L236.8,225.0 L237.2,227.9 L237.6,230.1 L238.0,224.7 L238.4,226.8 L238.8,220.6 L239.2,221.0 L239.6,222.9 L240.0,221.8 L240.4,221.8 L240.8,225.8 L241.2,227.7 L241.6,223.3 L242.0,219.5 L242.4,213.3 L242.8,216.7 L243.2,217.4 L243.6,213.2 L244.0,218.2 L244.4,216.1 L244.8,216.7 L245.2,217.9 L245.6,217.4 L246.0,214.3 L246.4,216.0 L246.8,211.8 L247.2,211.0 L247.6,211.5 L248.0,213.5 L248.4,217.7 L248.8,211.5 L249.2,218.3 L249.6,212.3 L250.0,219.1 L250.4,216.7 L250.8,216.3 L251.2,218.7 L251.6,212.7 L252.0,214.5 L252.4,209.2 L252.8,214.2 L253.2,213.0 L253.6,203.3 L254.0,209.6 L254.4,209.7 L254.8,211.6 L255.2,214.0 L255.6,214.7 L256.0,222.0 L256.4,215.8 L256.8,218.8 L257.2,212.5 L257.6,218.1 L258.0,212.9 L258.4,217.2 L258.8,215.0 L259.2,216.1 L259.6,210.1 L260.0,214.5 L260.4,208.6 L260.8,209.6 L261.2,207.5 L261.6,205.5 L262.0,210.1 L262.4,204.0 L262.8,210.7 L263.2,208.6 L263.6,209.5 L264.0,212.5 L264.4,213.3 L264.8,213.1 L265.2,209.4 L265.6,208.3 L266.0,211.9 L266.4,210.5 L266.8,212.6 L267.2,211.2 L267.6,205.9 L268.0,208.7 L268.4,212.3 L268.8,211.3 L269.2,212.7 L269.6,211.9 L270.0,199.3 L270.4,210.9 L270.8,207.7 L271.2,209.8 L271.6,206.4 L272.0,212.1 L272.4,208.7 L272.8,211.5 L273.2,203.3 L273.6,209.6 L274.0,209.1 L274.4,208.1 L274.8,212.5 L275.2,212.2 L275.6,207.9 L276.0,210.8 L276.4,217.4 L276.8,207.5 L277.2,215.1 L277.6,210.5 L278.0,204.4 L278.4,210.6 L278.8,208.6 L279.2,207.3 L279.6,205.4 L280.0,211.2 L280.4,208.3 L280.8,209.8 L281.2,208.2 L281.6,206.1 L282.0,216.6 L282.4,208.9 L282.8,207.5 L283.2,212.1 L283.6,209.6 L284.0,209.5 L284.4,206.9 L284.8,205.6 L285.2,203.3 L285.6,208.3 L286.0,203.8 L286.4,205.6 L286.8,206.6 L287.2,208.7 L287.6,204.8 L288.0,211.6 L288.4,216.2 L288.8,210.1 L289.2,208.4 L289.6,207.9 L290.0,213.2 L290.4,204.6 L290.8,205.1 L291.2,205.0 L291.6,213.4 L292.0,203.9 L292.4,207.6 L292.8,214.4 L293.2,212.0 L293.6,213.0 L294.0,207.3 L294.4,211.3 L294.8,207.3 L295.2,209.3 L295.6,208.3 L296.0,203.7 L296.4,211.4 L296.8,210.4 L297.2,206.3 L297.6,215.7 L298.0,212.9 L298.4,210.6 L298.8,211.1 L299.2,213.9 L299.6,212.3 L300.0,208.5 L300.4,212.9 L300.8,210.0 L301.2,214.4 L301.6,217.0 L302.0,211.5 L302.4,216.6 L302.8,212.2 L303.2,213.7 L303.6,210.6 L304.0,211.3 L304.4,209.6 L304.8,207.4 L305.2,211.3 L305.6,207.9 L306.0,213.4 L306.4,212.4 L306.8,211.2 L307.2,220.4 L307.6,216.5 L308.0,217.4 L308.4,221.5 L308.8,218.5 L309.2,214.1 L309.6,207.8 L310.0,218.0 L310.4,216.9 L310.8,214.2 L311.2,217.0 L311.6,215.7 L312.0,214.8 L312.4,212.9 L312.8,216.5 L313.2,222.3 L313.6,211.0 L314.0,216.4 L314.4,219.4 L314.8,216.9 L315.2,218.7 L315.6,217.5 L316.0,210.1 L316.4,222.0 L316.8,215.5 L317.2,220.8 L317.6,207.2 L318.0,217.5 L318.4,219.0 L318.8,219.0 L319.2,222.9 L319.6,224.2 L320.0,226.5 L320.4,217.1 L320.8,221.0 L321.2,223.7 L321.6,224.6 L322.0,226.9 L322.4,222.1 L322.8,224.2 L323.2,222.5 L323.6,224.1 L324.0,218.9 L324.4,227.5 L324.8,228.0 L325.2,228.2 L325.6,228.8 L326.0,230.9 L326.4,230.2 L326.8,226.5 L327.2,226.5 L327.6,227.5 L328.0,234.5 L328.4,229.3 L328.8,229.1 L329.2,236.3 L329.6,231.1 L330.0,231.1 L330.4,231.5 L330.8,233.5 L331.2,232.1 L331.6,229.5 L332.0,234.9 L332.4,229.6 L332.8,231.7 L333.2,239.5 L333.6,230.6 L334.0,236.4 L334.4,235.2 L334.8,236.3 L335.2,236.6 L335.6,239.8 L336.0,238.7 L336.4,239.3 L336.8,236.8 L337.2,239.1 L337.6,241.3 L338.0,240.1 L338.4,240.8 L338.8,245.2 L339.2,244.0 L339.6,240.2 L340.0,243.2 L340.4,245.8 L340.8,247.5 L341.2,243.8 L341.6,244.2 L342.0,247.0 L342.4,244.5 L342.8,253.3 L343.2,249.0 L343.6,246.3 L344.0,246.7 L344.4,248.5 L344.8,248.5 L345.2,250.9 L345.6,253.2 L346.0,251.6 L346.4,250.9 L346.8,248.6 L347.2,255.8 L347.6,256.1 L348.0,255.5 L348.4,259.0 L348.8,256.4 L349.2,257.0 L349.6,257.8 L350.0,258.4 L350.4,258.6 L350.8,264.2 L351.2,260.5 L351.6,263.6 L352.0,261.8 L352.4,264.6 L352.8,263.6 L353.2,262.9 L353.6,263.7 L354.0,265.3 L354.4,260.9 L354.8,263.5 L355.2,266.4 L355.6,268.6 L356.0,268.2 L356.4,271.0 L356.8,265.3 L357.2,266.8 L357.6,268.5 L358.0,268.9 L358.4,270.6 L358.8,269.5 L359.2,270.8 L359.6,269.2 L360.0,267.5 L360.4,269.9 L360.8,272.1 L361.2,271.1 L361.6,273.1 L362.0,273.2 L362.4,275.4 L362.8,275.6 L363.2,277.4 L363.6,272.3 L364.0,279.2 L364.4,276.6 L364.8,280.4 L365.2,277.7 L365.6,275.5 L366.0,280.2 L366.4,279.4 L366.8,278.7 L367.2,283.4 L367.6,283.5 L368.0,285.4 L368.4,282.5 L368.8,286.0 L369.2,284.5 L369.6,284.4 L370.0,285.8 L370.4,285.0 L370.8,284.6 L371.2,285.0 L371.6,283.8 L372.0,287.3 L372.4,287.8 L372.8,287.9 L373.2,286.9 L373.6,290.1 L374.0,293.6 L374.4,290.6 L374.8,292.9 L375.2,290.2 L375.6,293.1 L376.0,295.3 L376.4,291.5 L376.8,297.3 L377.2,296.1 L377.6,297.8 L378.0,296.9 L378.4,296.1 L378.8,298.2 L379.2,301.1 L379.6,295.9 L380.0,299.3 L380.4,299.7 L380.8,303.8 L381.2,297.8 L381.6,300.7 L382.0,301.9 L382.4,302.3 L382.8,301.9 L383.2,305.1 L383.6,301.9 L384.0,304.5 L384.4,305.8 L384.8,306.4 L385.2,308.0 L385.6,303.6 L386.0,309.8 L386.4,308.0 L386.8,306.4 L387.2,306.9 L387.6,306.3 L388.0,311.8 L388.4,310.9 L388.8,314.2 L389.2,311.0 L389.6,311.8 L390.0,313.3 L390.4,314.2 L390.8,312.2 L391.2,312.4 L391.6,313.1 L392.0,316.1 L392.4,315.5 L392.8,317.2 L393.2,317.0 L393.6,319.8 L394.0,318.9 L394.4,321.0 L394.8,322.1 L395.2,322.3 L395.6,320.4 L396.0,321.4 L396.4,322.4 L396.8,320.2 L397.2,321.8 L397.6,320.7 L398.0,319.1 L398.4,322.1 L398.8,320.3 L399.2,324.0 L399.6,323.2 L400.0,325.4 L400.4,326.7 L400.8,322.8 L401.2,325.8 L401.6,324.4 L402.0,327.3 L402.4,323.8 L402.8,328.2 L403.2,327.4 L403.6,327.9 L404.0,328.6 L404.4,330.3 L404.8,326.7 L405.2,329.0 L405.6,327.6 L406.0,330.2 L406.4,330.4 L406.8,331.6 L407.2,333.0 L407.6,333.5 L408.0,331.6 L408.4,330.9 L408.8,332.4 L409.2,333.0 L409.6,331.8 L410.0,334.0 L410.4,332.6 L410.8,333.3 L411.2,333.2 L411.6,335.0 L412.0,335.1 L412.4,333.6 L412.8,333.3 L413.2,335.3 L413.6,333.7 L414.0,334.1 L414.4,336.9 L414.8,337.4 L415.2,335.8 L415.6,338.7 L416.0,336.6 L416.4,339.7 L416.8,340.2 L417.2,340.0 L417.6,342.3 L418.0,341.8 L418.4,340.8 L418.8,339.1 L419.2,342.3 L419.6,343.6 L420.0,341.6 L420.4,341.6 L420.8,344.3 L421.2,343.5 L421.6,341.7 L422.0,344.6 L422.4,342.2 L422.8,344.8 L423.2,344.7 L423.6,345.7 L424.0,345.3 L424.4,346.1 L424.8,346.8 L425.2,346.1 L425.6,348.3 L426.0,348.1 L426.4,349.5 L426.8,347.9 L427.2,348.1 L427.6,348.2 L428.0,347.5 L428.4,346.3 L428.8,346.9 L429.2,347.3 L429.6,346.9 L430.0,347.1 L430.4,347.8 L430.8,347.8 L431.2,348.7 L431.6,350.0 L432.0,349.9 L432.4,348.9 L432.8,350.8 L433.2,350.1 L433.6,350.4 L434.0,348.9 L434.4,350.5 L434.8,353.3 L435.2,352.4 L435.6,352.3 L436.0,353.3 L436.4,352.9 L436.8,349.9 L437.2,354.2 L437.6,350.0 L438.0,350.9 L438.4,352.4 L438.8,352.2 L439.2,354.2 L439.6,353.3 L440.0,354.1 L440.4,355.2 L440.8,354.1 L441.2,352.8 L441.6,354.0 L442.0,353.2 L442.4,354.9 L442.8,355.1 L443.2,354.1 L443.6,353.7 L444.0,354.6 L444.4,356.9 L444.8,355.2 L445.2,356.3 L445.6,355.4 L446.0,354.2 L446.4,356.3 L446.8,355.5 L447.2,354.7 L447.6,355.5 L448.0,354.4 L448.4,358.4 L448.8,356.3 L449.2,357.7 L449.6,357.3 L450.0,358.6 L450.4,358.3 L450.8,356.0 L451.2,358.2 L451.6,358.1 L452.0,357.1 L452.4,358.1 L452.8,359.1 L453.2,356.7 L453.6,357.6 L454.0,355.8 L454.4,357.3 L454.8,358.0 L455.2,357.7 L455.6,359.2 L456.0,360.3 L456.4,360.3 L456.8,359.4 L457.2,359.8 L457.6,360.8 L458.0,360.0 L458.4,360.9 L458.8,360.0 L459.2,359.6 L459.6,360.0 L460.0,359.9 L460.4,360.5 L460.8,358.5 L461.2,360.2 L461.6,359.7 L462.0,359.9 L462.4,360.1 L462.8,361.1 L463.2,358.4 L463.6,359.0 L464.0,358.1 L464.4,359.0 L464.8,361.9 L465.2,360.1 L465.6,359.3 L466.0,361.0 L466.4,361.6 L466.8,362.7 L467.2,362.5 L467.6,362.4 L468.0,362.9 L468.4,361.9 L468.8,360.4 L469.2,361.1 L469.6,362.4 L470.0,360.6 L470.4,362.8 L470.8,362.5 L471.2,362.4 L471.6,361.9 L472.0,362.1 L472.4,362.5 L472.8,359.7 L473.2,360.1 L473.6,361.8 L474.0,362.8 L474.4,361.2 L474.8,361.1 L475.2,359.8 L475.6,362.8 L476.0,361.2 L476.4,361.4 L476.8,361.6 L477.2,361.7 L477.6,362.8 L478.0,363.5 L478.4,362.2 L478.8,363.5 L479.2,364.0 L479.6,364.6 L480.0,362.7 L480.4,364.2 L480.8,363.8 L481.2,363.6 L481.6,364.8 L482.0,365.2 L482.4,363.1 L482.8,364.4 L483.2,363.4 L483.6,364.4 L484.0,362.6 L484.4,363.4 L484.8,361.9 L485.2,362.1 L485.6,364.0 L486.0,361.4 L486.4,363.7 L486.8,363.8 L487.2,364.8 L487.6,362.9 L488.0,363.8 L488.4,364.6 L488.8,365.3 L489.2,365.3 L489.6,364.0 L490.0,364.2 L490.4,363.5 L490.8,363.9 L491.2,362.5 L491.6,364.0 L492.0,364.2 L492.4,364.3 L492.8,363.0 L493.2,363.8 L493.6,362.8 L494.0,364.5 L494.4,364.7 L494.8,364.0 L495.2,363.5 L495.6,366.0 L496.0,364.3 L496.4,364.5 L496.8,364.5 L497.2,364.1 L497.6,364.8 L498.0,362.9 L498.4,365.2 L498.8,365.5 L499.2,364.2 L499.6,363.5 L500.0,365.6 L500.4,363.9 L500.8,364.3 L501.2,366.7 L501.6,365.4 L502.0,364.9 L502.4,365.4 L502.8,365.1 L503.2,363.7 L503.6,363.7 L504.0,366.3 L504.4,365.4 L504.8,366.0 L505.2,365.5 L505.6,367.2 L506.0,365.8 L506.4,367.7 L506.8,366.6 L507.2,367.7 L507.6,367.8 L508.0,368.0 L508.4,367.5 L508.8,369.4 L509.2,368.2 L509.6,367.0 L510.0,368.3 L510.4,368.3 L510.8,367.6 L511.2,367.9 L511.6,364.7 L512.0,367.0 L512.4,366.8 L512.8,365.8 L513.2,368.2 L513.6,367.7 L514.0,366.4 L514.4,367.2 L514.8,366.7 L515.2,366.9 L515.6,366.6 L516.0,367.6 L516.4,366.7 L516.8,367.0 L517.2,367.3 L517.6,365.9 L518.0,367.4 L518.4,367.7 L518.8,366.8 L519.2,367.9 L519.6,368.6 L520.0,369.0 L520.4,368.0 L520.8,369.5 L521.2,367.7 L521.6,370.1 L522.0,366.5 L522.4,370.0 L522.8,369.9 L523.2,370.3 L523.6,370.8 L524.0,369.8 L524.4,371.0 L524.8,369.7 L525.2,370.0 L525.6,369.3 L526.0,372.5 L526.4,370.2 L526.8,369.7 L527.2,372.1 L527.6,373.7 L528.0,370.7 L528.4,371.2 L528.8,373.1 L529.2,373.2 L529.6,372.3 L530.0,370.9 L530.4,372.5 L530.8,371.2 L531.2,371.7 L531.6,372.5 L532.0,372.3 L532.4,372.1 L532.8,373.4 L533.2,374.1 L533.6,372.1 L534.0,374.0 L534.4,373.2 L534.8,372.4 L535.2,375.2 L535.6,373.4 L536.0,375.1 L536.4,376.3 L536.8,374.9 L537.2,374.1 L537.6,374.2 L538.0,374.1 L538.4,376.5 L538.8,374.6 L539.2,372.8 L539.6,374.6 L540.0,373.9 L540.4,374.2 L540.8,375.6 L541.2,374.7 L541.6,376.0 L542.0,375.0 L542.4,377.6 L542.8,378.1 L543.2,377.8 L543.6,379.6 L544.0,377.6 L544.4,378.7 L544.8,377.9 L545.2,376.4 L545.6,376.3 L546.0,376.0 L546.4,374.7 L546.8,377.2 L547.2,376.7 L547.6,377.2 L548.0,377.3 L548.4,377.4 L548.8,378.3 L549.2,378.5 L549.6,376.8 L550.0,377.0 L550.4,376.6 L550.8,377.2 L551.2,379.6 L551.6,378.5 L552.0,379.3 L552.4,380.1 L552.8,378.3 L553.2,378.4 L553.6,378.0 L554.0,379.8 L554.4,377.9 L554.8,380.6 L555.2,380.4 L555.6,379.0 L556.0,378.8 L556.4,380.6 L556.8,379.7 L557.2,380.3 L557.6,378.3 L558.0,380.5 L558.4,380.9 L558.8,379.9 L559.2,380.3 L559.6,378.6 L560.0,379.9 L560.4,380.9 L560.8,380.9 L561.2,379.5 L561.6,379.9 L562.0,379.2 L562.4,379.5 L562.8,381.1 L563.2,381.5 L563.6,380.6 L564.0,380.1 L564.4,379.9 L564.8,380.3 L565.2,382.4 L565.6,381.8 L566.0,381.5 L566.4,381.6 L566.8,380.2 L567.2,381.4 L567.6,381.5 L568.0,382.0 L568.4,383.7 L568.8,382.4 L569.2,383.4 L569.6,383.8 L570.0,385.3 L570.4,385.3 L570.8,384.6 L571.2,385.2 L571.6,385.1 L572.0,386.5 L572.4,384.4 L572.8,384.5 L573.2,384.9 L573.6,385.0 L574.0,386.4 L574.4,384.3 L574.8,384.8 L575.2,384.8 L575.6,386.7 L576.0,387.9 L576.4,386.6 L576.8,387.7 L577.2,385.9 L577.6,384.8 L578.0,385.3 L578.4,386.3 L578.8,385.7 L579.2,385.8 L579.6,384.7 L580.0,386.9 L580.4,385.1 L580.8,385.0 L581.2,386.1 L581.6,387.9 L582.0,386.9 L582.4,387.5 L582.8,387.1 L583.2,385.1 L583.6,386.2 L584.0,387.8 L584.4,387.0 L584.8,386.3 L585.2,386.5 L585.6,387.0 L586.0,387.3 L586.4,387.8 L586.8,389.6 L587.2,388.4 L587.6,387.8 L588.0,388.2 L588.4,389.0 L588.8,388.0 L589.2,387.8 L589.6,390.2 L590.0,388.2 L590.4,390.5 L590.8,388.7 L591.2,389.0 L591.6,390.3 L592.0,389.4 L592.4,390.3 L592.8,390.3 L593.2,390.5 L593.6,389.9 L594.0,388.7 L594.4,389.4 L594.8,389.0 L595.2,389.5 L595.6,389.5 L596.0,390.8 L596.4,392.3 L596.8,388.5 L597.2,389.1 L597.6,388.7 L598.0,391.6 L598.4,389.9 L598.8,388.1 L599.2,390.2 L599.6,389.8 L600.0,390.5 L600.4,390.7 L600.8,389.6 L601.2,389.1 L601.6,390.0 L602.0,388.2 L602.4,388.9 L602.8,389.2 L603.2,388.4 L603.6,391.4 L604.0,389.1 L604.4,392.1 L604.8,391.5 L605.2,391.0 L605.6,392.4 L606.0,391.6 L606.4,392.9 L606.8,391.9 L607.2,393.8 L607.6,393.1 L608.0,391.6 L608.4,391.9 L608.8,389.7 L609.2,391.7 L609.6,392.9 L610.0,393.2 L610.4,393.1 L610.8,393.2 L611.2,391.4 L611.6,392.0 L612.0,392.3 L612.4,391.2 L612.8,392.3 L613.2,391.1 L613.6,392.4 L614.0,393.9 L614.4,393.8 L614.8,394.2 L615.2,394.6 L615.6,394.3 L616.0,392.5 L616.4,393.8 L616.8,391.7 L617.2,391.8 L617.6,394.1 L618.0,391.1 L618.4,394.3 L618.8,393.8 L619.2,393.6 L619.6,393.1 L620.0,394.4 L620.4,392.8 L620.8,394.3 L621.2,393.7 L621.6,393.1 L622.0,393.6 L622.4,393.0 L622.8,393.6 L623.2,393.8 L623.6,395.4 L624.0,395.5 L624.4,393.4 L624.8,393.1 L625.2,394.2 L625.6,394.2 L626.0,393.1 L626.4,393.6 L626.8,394.3 L627.2,395.2 L627.6,393.6 L628.0,394.4 L628.4,394.6 L628.8,394.9 L629.2,396.3 L629.6,395.2 L630.0,393.8 L630.4,394.3 L630.8,395.7 L631.2,395.1 L631.6,395.7 L632.0,396.0 L632.4,396.9 L632.8,395.0 L633.2,395.9 L633.6,395.3 L634.0,396.9 L634.4,395.2 L634.8,395.8 L635.2,397.0 L635.6,396.6 L636.0,397.2 L636.4,395.3 L636.8,396.2 L637.2,396.2 L637.6,397.8 L638.0,397.5 L638.4,397.7 L638.8,396.8 L639.2,397.2 L639.6,397.2 L640.0,397.8 L640.4,397.6 L640.8,398.0 L641.2,395.7 L641.6,396.3 L642.0,397.1 L642.4,397.1 L642.8,398.3 L643.2,397.3 L643.6,396.2 L644.0,396.7 L644.4,396.6 L644.8,396.5 L645.2,397.4 L645.6,397.1 L646.0,397.9 L646.4,397.8 L646.8,397.5 L647.2,396.0 L647.6,395.7 L648.0,395.9 L648.4,396.7 L648.8,397.1 L649.2,397.7 L649.6,397.0 L650.0,398.1 L650.4,397.9 L650.8,397.1 L651.2,398.6 L651.6,398.9 L652.0,399.3 L652.4,399.5 L652.8,398.0 L653.2,397.8 L653.6,397.5 L654.0,399.0 L654.4,399.7 L654.8,397.4 L655.2,397.8 L655.6,399.3 L656.0,398.1 L656.4,397.5 L656.8,398.5 L657.2,398.2 L657.6,398.5 L658.0,397.7 L658.4,399.0 L658.8,399.4 L659.2,396.9 L659.6,398.7 L660.0,398.7 L660.4,396.8 L660.8,398.0 L661.2,397.5 L661.6,398.3 L662.0,398.9 L662.4,398.3 L662.8,398.5 L663.2,399.1 L663.6,399.3 L664.0,400.9 L664.4,399.9 L664.8,399.0 L665.2,397.8 L665.6,399.3 L666.0,400.4 L666.4,398.9 L666.8,400.3 L667.2,400.0 L667.6,400.1 L668.0,399.6 L668.4,400.0 L668.8,400.2 L669.2,399.8 L669.6,398.6 L670.0,399.0 L670.4,400.3 L670.8,398.9 L671.2,398.8 L671.6,398.9 L672.0,399.1 L672.4,398.5 L672.8,399.0 L673.2,398.8 L673.6,398.6 L674.0,400.1 L674.4,402.1 L674.8,400.6 L675.2,402.5 L675.6,400.0 L676.0,401.3 L676.4,400.8 L676.8,401.7 L677.2,399.5 L677.6,400.0 L678.0,401.1 L678.4,401.6 L678.8,400.9 L679.2,399.5 L679.6,401.1 L680.0,399.2 L680.4,401.2 L680.8,399.8 L681.2,400.0 L681.6,400.2 L682.0,400.4 L682.4,402.7 L682.8,401.6 L683.2,400.3 L683.6,401.1 L684.0,400.9 L684.4,402.1 L684.8,400.4 L685.2,402.1 L685.6,399.7 L686.0,401.8 L686.4,398.8 L686.8,400.3 L687.2,400.5 L687.6,400.4 L688.0,400.1 L688.4,401.5 L688.8,401.3 L689.2,402.9 L689.6,400.6 L690.0,401.6" fill="none" stroke="#ee3b3b" stroke-width="5.4" stroke-linejoin="round" stroke-linecap="butt"/>
<path d="M66.0,380.3 L66.4,381.3 L66.8,381.9 L67.2,379.3 L67.6,379.6 L68.0,380.0 L68.4,379.6 L68.8,379.5 L69.2,378.8 L69.6,378.8 L70.0,377.9 L70.4,378.5 L70.8,379.3 L71.2,379.9 L71.6,379.2 L72.0,379.2 L72.4,378.4 L72.8,378.5 L73.2,378.8 L73.6,378.2 L74.0,378.8 L74.4,379.0 L74.8,379.1 L75.2,378.9 L75.6,379.3 L76.0,379.2 L76.4,378.5 L76.8,379.7 L77.2,378.6 L77.6,378.6 L78.0,378.0 L78.4,377.8 L78.8,376.6 L79.2,376.6 L79.6,376.7 L80.0,376.5 L80.4,376.1 L80.8,376.8 L81.2,376.3 L81.6,376.4 L82.0,376.9 L82.4,377.1 L82.8,376.9 L83.2,376.4 L83.6,376.1 L84.0,375.9 L84.4,376.2 L84.8,375.3 L85.2,375.7 L85.6,373.8 L86.0,374.2 L86.4,374.4 L86.8,374.1 L87.2,373.7 L87.6,373.1 L88.0,373.3 L88.4,372.8 L88.8,374.3 L89.2,372.5 L89.6,374.0 L90.0,371.7 L90.4,373.2 L90.8,373.3 L91.2,372.7 L91.6,373.1 L92.0,372.3 L92.4,371.5 L92.8,371.0 L93.2,370.9 L93.6,371.8 L94.0,372.1 L94.4,371.4 L94.8,371.2 L95.2,371.1 L95.6,371.5 L96.0,369.7 L96.4,372.8 L96.8,371.5 L97.2,371.5 L97.6,371.3 L98.0,370.4 L98.4,370.2 L98.8,370.5 L99.2,369.0 L99.6,369.8 L100.0,369.1 L100.4,370.0 L100.8,367.4 L101.2,369.3 L101.6,367.8 L102.0,366.8 L102.4,368.3 L102.8,368.8 L103.2,366.9 L103.6,366.6 L104.0,367.0 L104.4,366.7 L104.8,368.1 L105.2,369.0 L105.6,367.5 L106.0,366.7 L106.4,365.7 L106.8,365.7 L107.2,367.2 L107.6,365.5 L108.0,364.8 L108.4,364.4 L108.8,365.0 L109.2,366.0 L109.6,366.0 L110.0,365.2 L110.4,364.6 L110.8,365.0 L111.2,364.6 L111.6,364.1 L112.0,363.8 L112.4,362.6 L112.8,362.1 L113.2,361.4 L113.6,360.8 L114.0,362.1 L114.4,360.0 L114.8,361.1 L115.2,359.0 L115.6,359.8 L116.0,358.1 L116.4,358.4 L116.8,358.5 L117.2,357.3 L117.6,357.7 L118.0,356.8 L118.4,356.4 L118.8,354.8 L119.2,354.7 L119.6,353.1 L120.0,353.3 L120.4,354.0 L120.8,355.1 L121.2,353.8 L121.6,353.2 L122.0,353.8 L122.4,352.6 L122.8,353.0 L123.2,351.3 L123.6,352.1 L124.0,350.1 L124.4,350.1 L124.8,349.3 L125.2,349.8 L125.6,350.3 L126.0,348.1 L126.4,347.5 L126.8,347.7 L127.2,347.0 L127.6,346.4 L128.0,346.7 L128.4,344.1 L128.8,346.5 L129.2,346.5 L129.6,345.5 L130.0,345.1 L130.4,345.2 L130.8,344.0 L131.2,344.2 L131.6,344.9 L132.0,342.1 L132.4,341.9 L132.8,338.0 L133.2,339.5 L133.6,340.6 L134.0,340.2 L134.4,339.4 L134.8,338.6 L135.2,338.2 L135.6,337.4 L136.0,336.0 L136.4,337.7 L136.8,336.8 L137.2,337.4 L137.6,335.2 L138.0,335.3 L138.4,333.0 L138.8,335.9 L139.2,334.1 L139.6,332.9 L140.0,331.2 L140.4,330.3 L140.8,329.8 L141.2,330.0 L141.6,330.3 L142.0,330.3 L142.4,328.4 L142.8,329.0 L143.2,328.9 L143.6,327.0 L144.0,324.5 L144.4,325.1 L144.8,323.7 L145.2,324.4 L145.6,322.8 L146.0,320.8 L146.4,320.6 L146.8,320.1 L147.2,319.8 L147.6,321.2 L148.0,319.2 L148.4,319.8 L148.8,318.5 L149.2,318.8 L149.6,317.0 L150.0,315.6 L150.4,315.5 L150.8,315.2 L151.2,316.2 L151.6,314.6 L152.0,314.1 L152.4,313.0 L152.8,311.3 L153.2,312.8 L153.6,311.2 L154.0,311.8 L154.4,310.3 L154.8,308.7 L155.2,309.0 L155.6,310.0 L156.0,305.7 L156.4,307.7 L156.8,307.2 L157.2,305.0 L157.6,305.3 L158.0,302.0 L158.4,302.5 L158.8,299.5 L159.2,300.8 L159.6,301.4 L160.0,299.7 L160.4,297.2 L160.8,298.1 L161.2,297.1 L161.6,295.8 L162.0,294.9 L162.4,294.4 L162.8,295.0 L163.2,292.6 L163.6,295.0 L164.0,293.2 L164.4,290.1 L164.8,292.2 L165.2,289.5 L165.6,288.7 L166.0,288.6 L166.4,288.6 L166.8,284.3 L167.2,285.8 L167.6,284.9 L168.0,284.5 L168.4,283.8 L168.8,282.3 L169.2,279.7 L169.6,280.7 L170.0,278.6 L170.4,281.5 L170.8,278.4 L171.2,279.1 L171.6,277.4 L172.0,276.4 L172.4,276.1 L172.8,270.8 L173.2,272.0 L173.6,270.6 L174.0,271.1 L174.4,270.2 L174.8,273.2 L175.2,269.5 L175.6,269.6 L176.0,268.6 L176.4,267.4 L176.8,266.6 L177.2,269.5 L177.6,264.5 L178.0,264.6 L178.4,264.9 L178.8,263.2 L179.2,264.7 L179.6,263.2 L180.0,261.3 L180.4,259.0 L180.8,260.3 L181.2,259.2 L181.6,257.6 L182.0,256.0 L182.4,257.5 L182.8,257.0 L183.2,254.2 L183.6,253.6 L184.0,254.0 L184.4,253.6 L184.8,250.0 L185.2,246.4 L185.6,248.6 L186.0,249.0 L186.4,242.7 L186.8,247.9 L187.2,245.1 L187.6,245.6 L188.0,243.1 L188.4,243.0 L188.8,240.3 L189.2,240.2 L189.6,241.1 L190.0,240.6 L190.4,238.0 L190.8,239.0 L191.2,239.0 L191.6,237.5 L192.0,237.4 L192.4,241.6 L192.8,235.6 L193.2,238.2 L193.6,234.6 L194.0,235.4 L194.4,232.6 L194.8,234.1 L195.2,233.4 L195.6,230.8 L196.0,228.4 L196.4,224.9 L196.8,226.0 L197.2,225.3 L197.6,223.4 L198.0,226.1 L198.4,224.9 L198.8,226.6 L199.2,222.6 L199.6,224.4 L200.0,219.5 L200.4,222.1 L200.8,220.2 L201.2,221.0 L201.6,217.6 L202.0,217.1 L202.4,214.3 L202.8,215.7 L203.2,218.2 L203.6,214.9 L204.0,215.3 L204.4,211.7 L204.8,211.1 L205.2,209.3 L205.6,208.7 L206.0,210.5 L206.4,204.4 L206.8,207.6 L207.2,205.2 L207.6,205.3 L208.0,205.0 L208.4,205.7 L208.8,206.6 L209.2,202.7 L209.6,203.1 L210.0,206.8 L210.4,202.6 L210.8,200.3 L211.2,197.9 L211.6,200.8 L212.0,200.1 L212.4,196.5 L212.8,199.9 L213.2,194.3 L213.6,194.6 L214.0,194.7 L214.4,198.6 L214.8,193.6 L215.2,193.8 L215.6,192.2 L216.0,188.1 L216.4,193.9 L216.8,192.8 L217.2,186.4 L217.6,188.8 L218.0,187.1 L218.4,185.5 L218.8,183.4 L219.2,188.0 L219.6,187.0 L220.0,187.5 L220.4,185.7 L220.8,183.0 L221.2,182.0 L221.6,181.9 L222.0,181.0 L222.4,179.6 L222.8,182.2 L223.2,186.0 L223.6,181.3 L224.0,183.2 L224.4,179.6 L224.8,176.6 L225.2,181.4 L225.6,172.5 L226.0,179.7 L226.4,172.4 L226.8,174.2 L227.2,173.1 L227.6,174.0 L228.0,171.9 L228.4,171.1 L228.8,169.9 L229.2,172.3 L229.6,169.4 L230.0,171.8 L230.4,168.9 L230.8,174.0 L231.2,172.3 L231.6,165.7 L232.0,169.0 L232.4,174.3 L232.8,167.9 L233.2,170.1 L233.6,167.4 L234.0,161.1 L234.4,168.6 L234.8,165.3 L235.2,163.9 L235.6,161.8 L236.0,161.8 L236.4,159.1 L236.8,162.8 L237.2,155.9 L237.6,154.6 L238.0,166.1 L238.4,163.3 L238.8,157.5 L239.2,160.8 L239.6,159.4 L240.0,155.9 L240.4,155.4 L240.8,157.4 L241.2,153.4 L241.6,160.1 L242.0,152.5 L242.4,159.5 L242.8,159.4 L243.2,152.5 L243.6,157.6 L244.0,155.7 L244.4,162.1 L244.8,150.9 L245.2,154.2 L245.6,152.5 L246.0,154.1 L246.4,155.0 L246.8,147.8 L247.2,148.8 L247.6,152.6 L248.0,153.8 L248.4,152.9 L248.8,146.7 L249.2,145.7 L249.6,150.8 L250.0,153.9 L250.4,149.4 L250.8,154.8 L251.2,148.0 L251.6,152.3 L252.0,146.3 L252.4,152.5 L252.8,149.4 L253.2,153.3 L253.6,151.5 L254.0,149.3 L254.4,157.3 L254.8,149.8 L255.2,154.2 L255.6,148.0 L256.0,151.2 L256.4,147.4 L256.8,155.7 L257.2,151.8 L257.6,146.0 L258.0,150.8 L258.4,146.9 L258.8,147.3 L259.2,144.4 L259.6,142.9 L260.0,140.1 L260.4,143.6 L260.8,145.3 L261.2,151.4 L261.6,153.1 L262.0,145.2 L262.4,145.0 L262.8,148.3 L263.2,144.5 L263.6,148.8 L264.0,146.9 L264.4,148.4 L264.8,146.7 L265.2,144.2 L265.6,147.9 L266.0,147.6 L266.4,147.4 L266.8,146.6 L267.2,154.7 L267.6,158.7 L268.0,152.5 L268.4,149.2 L268.8,152.2 L269.2,146.5 L269.6,149.9 L270.0,149.7 L270.4,147.6 L270.8,151.4 L271.2,152.4 L271.6,152.4 L272.0,149.9 L272.4,150.6 L272.8,151.7 L273.2,141.6 L273.6,143.0 L274.0,149.1 L274.4,147.5 L274.8,151.9 L275.2,147.0 L275.6,148.8 L276.0,156.6 L276.4,151.6 L276.8,147.7 L277.2,149.7 L277.6,152.7 L278.0,150.5 L278.4,145.5 L278.8,147.1 L279.2,149.4 L279.6,152.2 L280.0,151.0 L280.4,149.6 L280.8,152.2 L281.2,147.2 L281.6,144.9 L282.0,152.3 L282.4,148.5 L282.8,145.7 L283.2,148.3 L283.6,151.4 L284.0,150.9 L284.4,148.7 L284.8,150.6 L285.2,148.2 L285.6,148.0 L286.0,142.4 L286.4,143.9 L286.8,145.2 L287.2,141.5 L287.6,146.2 L288.0,146.5 L288.4,149.7 L288.8,146.2 L289.2,148.5 L289.6,151.4 L290.0,150.3 L290.4,150.2 L290.8,141.5 L291.2,150.0 L291.6,148.4 L292.0,153.2 L292.4,153.9 L292.8,153.7 L293.2,154.2 L293.6,149.3 L294.0,149.5 L294.4,141.9 L294.8,153.3 L295.2,150.9 L295.6,151.0 L296.0,146.8 L296.4,153.2 L296.8,146.4 L297.2,149.2 L297.6,145.3 L298.0,149.7 L298.4,152.0 L298.8,149.6 L299.2,147.8 L299.6,146.5 L300.0,150.3 L300.4,149.3 L300.8,143.1 L301.2,145.4 L301.6,149.0 L302.0,143.5 L302.4,139.3 L302.8,151.7 L303.2,146.9 L303.6,150.2 L304.0,150.7 L304.4,148.5 L304.8,149.8 L305.2,151.1 L305.6,147.9 L306.0,148.3 L306.4,156.7 L306.8,152.1 L307.2,147.0 L307.6,148.3 L308.0,148.0 L308.4,147.6 L308.8,145.1 L309.2,137.3 L309.6,145.8 L310.0,146.4 L310.4,154.0 L310.8,150.9 L311.2,151.3 L311.6,150.8 L312.0,150.9 L312.4,151.5 L312.8,158.5 L313.2,153.1 L313.6,155.5 L314.0,155.7 L314.4,158.6 L314.8,159.4 L315.2,151.1 L315.6,157.6 L316.0,154.5 L316.4,150.6 L316.8,150.8 L317.2,148.7 L317.6,158.0 L318.0,156.9 L318.4,155.0 L318.8,154.8 L319.2,152.8 L319.6,157.4 L320.0,154.4 L320.4,155.1 L320.8,163.3 L321.2,158.3 L321.6,157.3 L322.0,161.9 L322.4,158.4 L322.8,155.4 L323.2,157.8 L323.6,152.9 L324.0,159.7 L324.4,161.0 L324.8,158.6 L325.2,157.0 L325.6,167.3 L326.0,162.0 L326.4,157.7 L326.8,161.4 L327.2,166.8 L327.6,159.9 L328.0,154.9 L328.4,161.0 L328.8,159.3 L329.2,164.9 L329.6,160.3 L330.0,169.0 L330.4,162.2 L330.8,165.5 L331.2,170.5 L331.6,167.1 L332.0,166.8 L332.4,169.7 L332.8,167.7 L333.2,170.9 L333.6,167.3 L334.0,167.5 L334.4,171.9 L334.8,169.2 L335.2,170.6 L335.6,167.6 L336.0,165.2 L336.4,166.2 L336.8,165.8 L337.2,167.3 L337.6,170.1 L338.0,175.1 L338.4,170.2 L338.8,173.5 L339.2,174.0 L339.6,178.7 L340.0,171.0 L340.4,175.4 L340.8,170.0 L341.2,177.1 L341.6,177.4 L342.0,175.3 L342.4,175.0 L342.8,180.4 L343.2,180.2 L343.6,182.9 L344.0,181.2 L344.4,183.5 L344.8,180.0 L345.2,182.4 L345.6,178.3 L346.0,187.1 L346.4,179.2 L346.8,180.3 L347.2,183.2 L347.6,186.1 L348.0,180.5 L348.4,182.2 L348.8,181.0 L349.2,181.8 L349.6,187.1 L350.0,184.4 L350.4,183.1 L350.8,188.1 L351.2,188.3 L351.6,192.4 L352.0,186.6 L352.4,190.6 L352.8,184.0 L353.2,189.3 L353.6,190.6 L354.0,186.7 L354.4,186.9 L354.8,190.3 L355.2,193.7 L355.6,195.6 L356.0,190.9 L356.4,195.3 L356.8,192.1 L357.2,195.1 L357.6,197.9 L358.0,198.5 L358.4,193.1 L358.8,195.8 L359.2,198.7 L359.6,199.6 L360.0,200.9 L360.4,197.8 L360.8,199.8 L361.2,199.1 L361.6,200.5 L362.0,202.2 L362.4,207.9 L362.8,199.3 L363.2,203.9 L363.6,202.4 L364.0,204.5 L364.4,205.0 L364.8,211.0 L365.2,213.4 L365.6,207.3 L366.0,207.1 L366.4,212.5 L366.8,209.2 L367.2,212.7 L367.6,213.7 L368.0,211.0 L368.4,213.4 L368.8,210.5 L369.2,211.8 L369.6,215.7 L370.0,212.9 L370.4,217.4 L370.8,215.5 L371.2,215.7 L371.6,223.5 L372.0,218.2 L372.4,220.3 L372.8,219.4 L373.2,222.6 L373.6,221.8 L374.0,223.4 L374.4,226.1 L374.8,223.1 L375.2,222.0 L375.6,224.0 L376.0,226.2 L376.4,227.7 L376.8,228.5 L377.2,224.8 L377.6,227.9 L378.0,224.7 L378.4,226.4 L378.8,227.0 L379.2,230.3 L379.6,227.7 L380.0,227.9 L380.4,228.6 L380.8,232.2 L381.2,230.2 L381.6,229.5 L382.0,232.2 L382.4,233.1 L382.8,234.2 L383.2,233.9 L383.6,235.2 L384.0,233.9 L384.4,236.2 L384.8,237.5 L385.2,236.9 L385.6,235.2 L386.0,237.7 L386.4,239.8 L386.8,238.1 L387.2,237.2 L387.6,240.2 L388.0,239.0 L388.4,237.9 L388.8,240.6 L389.2,240.2 L389.6,241.2 L390.0,245.6 L390.4,244.7 L390.8,244.8 L391.2,245.3 L391.6,245.2 L392.0,243.8 L392.4,244.9 L392.8,250.9 L393.2,243.6 L393.6,249.1 L394.0,247.1 L394.4,250.1 L394.8,247.8 L395.2,249.3 L395.6,249.9 L396.0,253.3 L396.4,253.5 L396.8,253.5 L397.2,252.6 L397.6,251.0 L398.0,255.4 L398.4,255.0 L398.8,255.9 L399.2,257.4 L399.6,256.6 L400.0,257.6 L400.4,258.4 L400.8,254.4 L401.2,257.7 L401.6,255.4 L402.0,258.2 L402.4,261.5 L402.8,257.3 L403.2,259.3 L403.6,257.1 L404.0,261.4 L404.4,261.8 L404.8,261.5 L405.2,264.2 L405.6,260.7 L406.0,261.5 L406.4,262.6 L406.8,262.1 L407.2,261.8 L407.6,261.3 L408.0,264.0 L408.4,264.6 L408.8,260.5 L409.2,266.2 L409.6,266.6 L410.0,266.1 L410.4,265.7 L410.8,269.5 L411.2,265.0 L411.6,266.6 L412.0,269.8 L412.4,269.6 L412.8,267.5 L413.2,267.7 L413.6,269.4 L414.0,270.2 L414.4,269.7 L414.8,271.9 L415.2,272.8 L415.6,272.0 L416.0,274.9 L416.4,273.0 L416.8,272.3 L417.2,275.1 L417.6,271.9 L418.0,276.1 L418.4,277.5 L418.8,277.8 L419.2,278.1 L419.6,278.6 L420.0,277.4 L420.4,278.4 L420.8,277.3 L421.2,276.5 L421.6,280.2 L422.0,280.0 L422.4,277.8 L422.8,277.9 L423.2,280.0 L423.6,277.9 L424.0,279.4 L424.4,280.5 L424.8,279.9 L425.2,280.4 L425.6,279.8 L426.0,283.8 L426.4,282.8 L426.8,282.6 L427.2,283.7 L427.6,282.9 L428.0,282.8 L428.4,282.5 L428.8,285.1 L429.2,284.6 L429.6,284.4 L430.0,283.1 L430.4,286.2 L430.8,284.6 L431.2,285.2 L431.6,284.7 L432.0,285.1 L432.4,285.6 L432.8,285.6 L433.2,286.7 L433.6,286.2 L434.0,288.1 L434.4,287.0 L434.8,287.2 L435.2,288.1 L435.6,288.4 L436.0,288.6 L436.4,288.2 L436.8,290.3 L437.2,290.4 L437.6,289.7 L438.0,290.9 L438.4,292.2 L438.8,291.5 L439.2,291.2 L439.6,290.3 L440.0,289.7 L440.4,292.6 L440.8,292.3 L441.2,292.2 L441.6,293.8 L442.0,290.1 L442.4,291.9 L442.8,292.7 L443.2,295.1 L443.6,292.7 L444.0,293.3 L444.4,291.5 L444.8,293.7 L445.2,293.3 L445.6,295.1 L446.0,296.0 L446.4,292.6 L446.8,295.0 L447.2,294.9 L447.6,294.9 L448.0,294.8 L448.4,295.2 L448.8,298.4 L449.2,295.7 L449.6,298.4 L450.0,297.8 L450.4,297.7 L450.8,297.2 L451.2,298.1 L451.6,298.4 L452.0,298.3 L452.4,297.1 L452.8,297.6 L453.2,299.0 L453.6,297.9 L454.0,297.2 L454.4,297.5 L454.8,298.0 L455.2,298.9 L455.6,299.1 L456.0,300.0 L456.4,299.3 L456.8,298.0 L457.2,297.7 L457.6,298.0 L458.0,298.9 L458.4,297.7 L458.8,298.8 L459.2,298.6 L459.6,299.2 L460.0,299.1 L460.4,296.9 L460.8,296.6 L461.2,298.1 L461.6,297.0 L462.0,297.4 L462.4,300.5 L462.8,299.8 L463.2,300.2 L463.6,301.8 L464.0,302.1 L464.4,299.8 L464.8,299.6 L465.2,299.8 L465.6,299.2 L466.0,299.8 L466.4,300.0 L466.8,301.1 L467.2,304.4 L467.6,301.2 L468.0,302.9 L468.4,302.5 L468.8,303.3 L469.2,302.3 L469.6,301.5 L470.0,301.2 L470.4,301.8 L470.8,301.4 L471.2,300.6 L471.6,301.6 L472.0,299.3 L472.4,302.6 L472.8,302.9 L473.2,303.8 L473.6,302.6 L474.0,302.1 L474.4,306.7 L474.8,302.5 L475.2,303.9 L475.6,304.7 L476.0,302.8 L476.4,304.1 L476.8,303.8 L477.2,303.5 L477.6,303.1 L478.0,302.5 L478.4,305.3 L478.8,305.5 L479.2,304.8 L479.6,303.6 L480.0,302.3 L480.4,305.1 L480.8,304.9 L481.2,304.5 L481.6,303.7 L482.0,304.2 L482.4,303.8 L482.8,302.2 L483.2,305.0 L483.6,303.5 L484.0,304.0 L484.4,304.0 L484.8,306.4 L485.2,304.8 L485.6,304.8 L486.0,306.1 L486.4,304.7 L486.8,304.6 L487.2,305.1 L487.6,304.8 L488.0,304.7 L488.4,305.2 L488.8,304.2 L489.2,304.9 L489.6,305.0 L490.0,306.6 L490.4,305.6 L490.8,306.9 L491.2,306.7 L491.6,304.5 L492.0,302.7 L492.4,305.1 L492.8,305.5 L493.2,304.6 L493.6,304.9 L494.0,304.8 L494.4,304.8 L494.8,304.3 L495.2,307.8 L495.6,306.3 L496.0,304.4 L496.4,305.7 L496.8,305.4 L497.2,304.5 L497.6,305.8 L498.0,303.8 L498.4,306.6 L498.8,305.3 L499.2,306.0 L499.6,305.8 L500.0,307.0 L500.4,304.8 L500.8,308.1 L501.2,307.2 L501.6,307.4 L502.0,305.1 L502.4,307.5 L502.8,305.2 L503.2,305.1 L503.6,305.9 L504.0,302.3 L504.4,305.4 L504.8,304.4 L505.2,305.1 L505.6,305.4 L506.0,306.5 L506.4,305.9 L506.8,305.5 L507.2,305.9 L507.6,308.2 L508.0,306.4 L508.4,306.3 L508.8,307.6 L509.2,307.3 L509.6,306.8 L510.0,308.7 L510.4,307.7 L510.8,307.5 L511.2,307.9 L511.6,306.4 L512.0,307.4 L512.4,307.8 L512.8,309.3 L513.2,308.0 L513.6,308.3 L514.0,309.6 L514.4,310.0 L514.8,308.9 L515.2,309.9 L515.6,306.6 L516.0,309.6 L516.4,308.9 L516.8,308.9 L517.2,309.8 L517.6,310.5 L518.0,310.6 L518.4,309.7 L518.8,310.7 L519.2,310.1 L519.6,308.8 L520.0,311.3 L520.4,312.1 L520.8,309.1 L521.2,309.6 L521.6,311.4 L522.0,310.4 L522.4,308.6 L522.8,309.0 L523.2,310.9 L523.6,311.0 L524.0,310.7 L524.4,309.3 L524.8,310.0 L525.2,311.4 L525.6,313.5 L526.0,311.5 L526.4,313.1 L526.8,313.3 L527.2,312.1 L527.6,313.2 L528.0,311.4 L528.4,313.7 L528.8,313.1 L529.2,312.4 L529.6,313.5 L530.0,311.9 L530.4,312.6 L530.8,313.2 L531.2,315.1 L531.6,313.9 L532.0,314.3 L532.4,314.6 L532.8,314.8 L533.2,313.8 L533.6,313.9 L534.0,312.8 L534.4,312.0 L534.8,312.2 L535.2,313.9 L535.6,313.3 L536.0,313.7 L536.4,316.1 L536.8,315.3 L537.2,315.4 L537.6,315.3 L538.0,316.4 L538.4,317.8 L538.8,315.8 L539.2,316.5 L539.6,318.8 L540.0,316.4 L540.4,317.5 L540.8,316.8 L541.2,315.8 L541.6,316.1 L542.0,315.0 L542.4,316.5 L542.8,317.6 L543.2,318.4 L543.6,316.0 L544.0,318.0 L544.4,318.4 L544.8,318.6 L545.2,316.4 L545.6,315.3 L546.0,316.9 L546.4,316.4 L546.8,317.3 L547.2,317.3 L547.6,318.6 L548.0,318.7 L548.4,318.0 L548.8,318.1 L549.2,319.6 L549.6,318.0 L550.0,319.1 L550.4,316.7 L550.8,318.0 L551.2,316.4 L551.6,317.7 L552.0,317.2 L552.4,319.0 L552.8,319.4 L553.2,320.0 L553.6,319.2 L554.0,320.6 L554.4,319.1 L554.8,319.8 L555.2,319.0 L555.6,320.5 L556.0,321.5 L556.4,319.7 L556.8,320.5 L557.2,320.8 L557.6,322.1 L558.0,321.1 L558.4,321.8 L558.8,320.8 L559.2,321.0 L559.6,322.7 L560.0,321.5 L560.4,321.0 L560.8,322.6 L561.2,321.0 L561.6,321.6 L562.0,322.6 L562.4,321.8 L562.8,322.5 L563.2,321.8 L563.6,323.1 L564.0,322.4 L564.4,322.5 L564.8,323.0 L565.2,323.5 L565.6,323.6 L566.0,323.3 L566.4,323.1 L566.8,322.4 L567.2,325.6 L567.6,322.9 L568.0,323.3 L568.4,322.6 L568.8,323.1 L569.2,323.2 L569.6,323.6 L570.0,323.1 L570.4,324.5 L570.8,324.2 L571.2,324.2 L571.6,325.1 L572.0,324.8 L572.4,324.3 L572.8,326.7 L573.2,323.6 L573.6,327.2 L574.0,327.4 L574.4,324.9 L574.8,326.3 L575.2,326.4 L575.6,328.7 L576.0,326.2 L576.4,326.3 L576.8,325.9 L577.2,327.1 L577.6,325.2 L578.0,327.7 L578.4,328.5 L578.8,327.7 L579.2,326.6 L579.6,329.2 L580.0,326.8 L580.4,326.3 L580.8,326.9 L581.2,327.6 L581.6,327.6 L582.0,328.6 L582.4,327.5 L582.8,327.3 L583.2,328.6 L583.6,327.7 L584.0,329.4 L584.4,329.5 L584.8,326.9 L585.2,327.9 L585.6,328.7 L586.0,329.4 L586.4,328.7 L586.8,330.4 L587.2,329.9 L587.6,331.1 L588.0,329.0 L588.4,329.9 L588.8,331.0 L589.2,331.7 L589.6,330.2 L590.0,329.4 L590.4,328.5 L590.8,332.2 L591.2,329.9 L591.6,330.1 L592.0,328.6 L592.4,329.5 L592.8,329.2 L593.2,329.8 L593.6,331.6 L594.0,330.9 L594.4,329.3 L594.8,331.3 L595.2,330.9 L595.6,329.9 L596.0,330.1 L596.4,331.2 L596.8,332.8 L597.2,330.6 L597.6,331.4 L598.0,332.2 L598.4,330.5 L598.8,331.1 L599.2,332.9 L599.6,331.3 L600.0,330.8 L600.4,331.6 L600.8,331.7 L601.2,331.1 L601.6,332.8 L602.0,331.7 L602.4,331.3 L602.8,329.7 L603.2,331.5 L603.6,329.9 L604.0,332.0 L604.4,332.2 L604.8,332.7 L605.2,332.2 L605.6,331.8 L606.0,330.9 L606.4,332.1 L606.8,333.1 L607.2,332.4 L607.6,333.3 L608.0,333.7 L608.4,331.4 L608.8,332.9 L609.2,333.9 L609.6,333.8 L610.0,333.4 L610.4,333.7 L610.8,332.6 L611.2,333.0 L611.6,332.3 L612.0,332.0 L612.4,334.0 L612.8,334.7 L613.2,334.1 L613.6,335.0 L614.0,334.0 L614.4,334.7 L614.8,335.3 L615.2,332.5 L615.6,333.9 L616.0,335.1 L616.4,334.4 L616.8,333.8 L617.2,334.2 L617.6,335.1 L618.0,334.3 L618.4,335.0 L618.8,333.6 L619.2,334.3 L619.6,333.7 L620.0,335.4 L620.4,334.5 L620.8,334.7 L621.2,334.4 L621.6,333.9 L622.0,334.1 L622.4,334.5 L622.8,335.5 L623.2,336.0 L623.6,334.5 L624.0,335.2 L624.4,333.5 L624.8,335.2 L625.2,336.6 L625.6,334.8 L626.0,336.2 L626.4,337.2 L626.8,335.4 L627.2,334.4 L627.6,335.8 L628.0,335.8 L628.4,335.6 L628.8,335.6 L629.2,336.4 L629.6,336.9 L630.0,336.1 L630.4,336.3 L630.8,335.8 L631.2,335.7 L631.6,337.8 L632.0,336.6 L632.4,338.1 L632.8,338.3 L633.2,336.1 L633.6,335.5 L634.0,336.3 L634.4,337.5 L634.8,336.2 L635.2,337.8 L635.6,336.2 L636.0,337.3 L636.4,336.4 L636.8,339.2 L637.2,338.2 L637.6,338.9 L638.0,339.1 L638.4,339.6 L638.8,337.8 L639.2,338.3 L639.6,335.9 L640.0,338.8 L640.4,339.4 L640.8,338.1 L641.2,338.7 L641.6,337.1 L642.0,337.5 L642.4,336.7 L642.8,338.7 L643.2,336.9 L643.6,338.6 L644.0,338.1 L644.4,339.0 L644.8,339.2 L645.2,337.1 L645.6,339.0 L646.0,338.7 L646.4,336.9 L646.8,338.7 L647.2,338.5 L647.6,339.4 L648.0,337.6 L648.4,337.2 L648.8,338.9 L649.2,339.8 L649.6,337.6 L650.0,338.3 L650.4,338.5 L650.8,338.1 L651.2,338.2 L651.6,339.7 L652.0,339.0 L652.4,338.8 L652.8,337.7 L653.2,339.9 L653.6,339.3 L654.0,340.7 L654.4,337.9 L654.8,338.6 L655.2,340.3 L655.6,340.4 L656.0,340.1 L656.4,339.6 L656.8,340.5 L657.2,340.9 L657.6,340.8 L658.0,340.3 L658.4,340.1 L658.8,339.9 L659.2,342.0 L659.6,340.1 L660.0,341.8 L660.4,341.5 L660.8,340.9 L661.2,340.7 L661.6,340.0 L662.0,341.5 L662.4,340.3 L662.8,340.1 L663.2,340.0 L663.6,338.8 L664.0,339.4 L664.4,339.8 L664.8,340.9 L665.2,340.2 L665.6,340.9 L666.0,339.9 L666.4,340.0 L666.8,341.5 L667.2,340.5 L667.6,340.4 L668.0,341.7 L668.4,341.0 L668.8,340.4 L669.2,340.4 L669.6,341.2 L670.0,341.3 L670.4,341.1 L670.8,341.0 L671.2,339.9 L671.6,340.1 L672.0,341.9 L672.4,338.9 L672.8,341.2 L673.2,341.0 L673.6,341.9 L674.0,339.6 L674.4,342.6 L674.8,339.7 L675.2,340.0 L675.6,339.5 L676.0,340.2 L676.4,341.7 L676.8,340.4 L677.2,340.4 L677.6,341.4 L678.0,343.0 L678.4,343.3 L678.8,341.6 L679.2,342.3 L679.6,340.7 L680.0,341.5 L680.4,341.3 L680.8,342.3 L681.2,342.0 L681.6,341.6 L682.0,341.2 L682.4,342.5 L682.8,341.5 L683.2,341.9 L683.6,342.3 L684.0,342.7 L684.4,343.2 L684.8,342.6 L685.2,340.4 L685.6,342.5 L686.0,340.8 L686.4,341.1 L686.8,340.9 L687.2,342.3 L687.6,340.5 L688.0,342.1 L688.4,341.9 L688.8,341.3 L689.2,343.2 L689.6,342.6 L690.0,343.0" fill="none" stroke="#176ae0" stroke-width="5.4" stroke-linejoin="round" stroke-linecap="butt"/>
<path d="M66.0,306.1 L66.4,305.3 L66.8,304.3 L67.2,304.3 L67.6,303.0 L68.0,302.7 L68.4,303.0 L68.8,303.3 L69.2,303.3 L69.6,303.7 L70.0,301.4 L70.4,303.8 L70.8,301.7 L71.2,303.1 L71.6,303.3 L72.0,303.2 L72.4,303.0 L72.8,302.9 L73.2,301.7 L73.6,301.5 L74.0,301.1 L74.4,300.9 L74.8,299.8 L75.2,298.8 L75.6,299.1 L76.0,299.7 L76.4,300.3 L76.8,298.6 L77.2,300.6 L77.6,299.6 L78.0,299.8 L78.4,300.1 L78.8,301.6 L79.2,298.8 L79.6,298.7 L80.0,297.6 L80.4,299.3 L80.8,299.2 L81.2,299.7 L81.6,299.4 L82.0,298.4 L82.4,298.5 L82.8,297.6 L83.2,297.8 L83.6,297.3 L84.0,297.5 L84.4,296.4 L84.8,297.3 L85.2,296.2 L85.6,296.8 L86.0,297.4 L86.4,297.8 L86.8,296.0 L87.2,296.8 L87.6,296.1 L88.0,294.8 L88.4,296.3 L88.8,295.4 L89.2,294.0 L89.6,293.2 L90.0,293.1 L90.4,292.9 L90.8,292.5 L91.2,292.0 L91.6,293.4 L92.0,293.4 L92.4,292.4 L92.8,292.6 L93.2,292.8 L93.6,293.2 L94.0,291.7 L94.4,292.8 L94.8,292.8 L95.2,291.1 L95.6,290.7 L96.0,289.6 L96.4,290.6 L96.8,290.2 L97.2,289.8 L97.6,290.4 L98.0,289.5 L98.4,289.7 L98.8,290.5 L99.2,288.0 L99.6,290.2 L100.0,288.8 L100.4,288.5 L100.8,288.3 L101.2,288.1 L101.6,288.2 L102.0,286.2 L102.4,286.5 L102.8,286.6 L103.2,285.3 L103.6,285.6 L104.0,286.2 L104.4,285.6 L104.8,285.6 L105.2,285.4 L105.6,284.2 L106.0,282.9 L106.4,283.2 L106.8,284.5 L107.2,284.0 L107.6,284.3 L108.0,282.9 L108.4,282.5 L108.8,283.2 L109.2,281.1 L109.6,282.1 L110.0,281.4 L110.4,281.2 L110.8,280.7 L111.2,281.2 L111.6,279.6 L112.0,280.1 L112.4,280.1 L112.8,277.9 L113.2,281.1 L113.6,276.5 L114.0,276.8 L114.4,277.0 L114.8,278.4 L115.2,277.3 L115.6,275.6 L116.0,273.8 L116.4,276.7 L116.8,274.7 L117.2,274.2 L117.6,273.3 L118.0,273.5 L118.4,273.1 L118.8,272.6 L119.2,270.6 L119.6,270.0 L120.0,272.0 L120.4,270.7 L120.8,270.4 L121.2,270.6 L121.6,268.4 L122.0,268.5 L122.4,269.9 L122.8,267.7 L123.2,267.9 L123.6,269.6 L124.0,268.3 L124.4,268.5 L124.8,267.4 L125.2,267.7 L125.6,266.8 L126.0,266.4 L126.4,265.8 L126.8,264.1 L127.2,265.4 L127.6,264.6 L128.0,262.0 L128.4,262.4 L128.8,262.9 L129.2,261.8 L129.6,259.8 L130.0,260.2 L130.4,259.6 L130.8,258.6 L131.2,259.1 L131.6,258.5 L132.0,257.3 L132.4,256.6 L132.8,255.8 L133.2,256.8 L133.6,254.4 L134.0,255.2 L134.4,255.2 L134.8,252.2 L135.2,253.1 L135.6,251.1 L136.0,251.6 L136.4,251.4 L136.8,249.1 L137.2,249.3 L137.6,248.1 L138.0,249.6 L138.4,247.3 L138.8,245.7 L139.2,245.8 L139.6,245.5 L140.0,245.2 L140.4,244.2 L140.8,243.6 L141.2,243.2 L141.6,242.3 L142.0,243.6 L142.4,241.5 L142.8,240.7 L143.2,239.7 L143.6,240.3 L144.0,237.4 L144.4,237.1 L144.8,237.9 L145.2,235.6 L145.6,234.9 L146.0,234.2 L146.4,234.0 L146.8,234.0 L147.2,234.3 L147.6,233.4 L148.0,231.6 L148.4,230.6 L148.8,232.6 L149.2,230.0 L149.6,228.0 L150.0,228.0 L150.4,228.1 L150.8,226.0 L151.2,224.2 L151.6,224.7 L152.0,222.5 L152.4,222.9 L152.8,224.3 L153.2,222.9 L153.6,221.2 L154.0,222.3 L154.4,221.4 L154.8,218.9 L155.2,217.1 L155.6,218.3 L156.0,215.1 L156.4,217.3 L156.8,216.3 L157.2,212.5 L157.6,215.1 L158.0,211.9 L158.4,211.1 L158.8,211.7 L159.2,209.3 L159.6,211.0 L160.0,211.6 L160.4,209.9 L160.8,207.9 L161.2,207.5 L161.6,208.8 L162.0,206.9 L162.4,205.8 L162.8,202.9 L163.2,202.2 L163.6,201.4 L164.0,203.1 L164.4,201.4 L164.8,198.8 L165.2,198.9 L165.6,197.6 L166.0,194.8 L166.4,198.3 L166.8,196.7 L167.2,194.3 L167.6,194.5 L168.0,197.0 L168.4,191.7 L168.8,192.8 L169.2,190.2 L169.6,190.2 L170.0,191.4 L170.4,189.3 L170.8,185.7 L171.2,187.7 L171.6,186.0 L172.0,186.7 L172.4,186.8 L172.8,182.2 L173.2,186.0 L173.6,181.4 L174.0,183.7 L174.4,182.3 L174.8,182.3 L175.2,181.8 L175.6,181.7 L176.0,181.7 L176.4,177.3 L176.8,176.0 L177.2,177.5 L177.6,175.2 L178.0,177.5 L178.4,177.7 L178.8,173.7 L179.2,175.7 L179.6,174.4 L180.0,170.4 L180.4,169.8 L180.8,172.0 L181.2,168.5 L181.6,170.5 L182.0,164.9 L182.4,164.5 L182.8,165.2 L183.2,163.4 L183.6,166.2 L184.0,162.0 L184.4,161.6 L184.8,160.7 L185.2,162.4 L185.6,158.0 L186.0,153.8 L186.4,158.6 L186.8,154.0 L187.2,153.2 L187.6,153.7 L188.0,150.8 L188.4,153.6 L188.8,153.1 L189.2,151.1 L189.6,147.9 L190.0,152.5 L190.4,149.6 L190.8,145.9 L191.2,147.7 L191.6,142.4 L192.0,142.4 L192.4,141.4 L192.8,139.1 L193.2,138.6 L193.6,136.2 L194.0,138.6 L194.4,138.7 L194.8,139.5 L195.2,139.1 L195.6,135.9 L196.0,132.9 L196.4,137.5 L196.8,139.2 L197.2,137.1 L197.6,131.3 L198.0,133.6 L198.4,131.2 L198.8,130.6 L199.2,126.0 L199.6,129.9 L200.0,130.0 L200.4,126.9 L200.8,126.0 L201.2,124.2 L201.6,121.8 L202.0,121.9 L202.4,118.7 L202.8,122.1 L203.2,121.2 L203.6,115.3 L204.0,119.9 L204.4,115.7 L204.8,113.9 L205.2,115.6 L205.6,114.4 L206.0,115.9 L206.4,113.0 L206.8,111.7 L207.2,114.6 L207.6,114.7 L208.0,113.6 L208.4,112.4 L208.8,112.1 L209.2,112.7 L209.6,109.8 L210.0,109.4 L210.4,104.5 L210.8,109.8 L211.2,105.8 L211.6,112.1 L212.0,102.9 L212.4,103.8 L212.8,107.9 L213.2,104.9 L213.6,103.4 L214.0,106.2 L214.4,99.4 L214.8,100.5 L215.2,100.4 L215.6,102.8 L216.0,98.6 L216.4,101.9 L216.8,100.1 L217.2,97.3 L217.6,97.2 L218.0,98.3 L218.4,100.1 L218.8,95.0 L219.2,95.6 L219.6,100.2 L220.0,98.0 L220.4,95.8 L220.8,96.7 L221.2,92.9 L221.6,90.0 L222.0,94.7 L222.4,96.6 L222.8,94.1 L223.2,92.2 L223.6,86.6 L224.0,90.6 L224.4,86.0 L224.8,91.3 L225.2,85.8 L225.6,87.9 L226.0,87.2 L226.4,86.6 L226.8,81.9 L227.2,89.5 L227.6,87.0 L228.0,88.9 L228.4,88.0 L228.8,79.7 L229.2,82.4 L229.6,85.0 L230.0,82.7 L230.4,81.8 L230.8,82.6 L231.2,84.3 L231.6,82.3 L232.0,82.9 L232.4,81.1 L232.8,84.9 L233.2,81.0 L233.6,78.9 L234.0,81.3 L234.4,83.0 L234.8,77.9 L235.2,79.5 L235.6,79.7 L236.0,85.3 L236.4,87.1 L236.8,82.3 L237.2,76.4 L237.6,80.0 L238.0,83.3 L238.4,78.4 L238.8,77.5 L239.2,81.8 L239.6,78.1 L240.0,70.0 L240.4,73.4 L240.8,73.0 L241.2,79.9 L241.6,84.1 L242.0,78.7 L242.4,78.5 L242.8,80.5 L243.2,74.9 L243.6,71.1 L244.0,72.3 L244.4,70.6 L244.8,71.9 L245.2,69.1 L245.6,72.3 L246.0,70.9 L246.4,68.2 L246.8,71.4 L247.2,70.1 L247.6,70.4 L248.0,73.8 L248.4,68.3 L248.8,65.9 L249.2,69.7 L249.6,75.1 L250.0,68.3 L250.4,64.7 L250.8,71.8 L251.2,68.1 L251.6,67.5 L252.0,68.1 L252.4,76.5 L252.8,74.2 L253.2,73.0 L253.6,72.3 L254.0,69.3 L254.4,73.8 L254.8,67.8 L255.2,63.2 L255.6,70.0 L256.0,65.8 L256.4,62.4 L256.8,64.6 L257.2,61.2 L257.6,66.6 L258.0,71.0 L258.4,62.8 L258.8,70.7 L259.2,65.4 L259.6,73.5 L260.0,70.1 L260.4,65.4 L260.8,65.6 L261.2,66.3 L261.6,67.3 L262.0,68.0 L262.4,65.8 L262.8,66.0 L263.2,67.4 L263.6,69.1 L264.0,66.2 L264.4,70.3 L264.8,69.3 L265.2,68.6 L265.6,75.0 L266.0,75.0 L266.4,69.2 L266.8,70.2 L267.2,70.2 L267.6,64.9 L268.0,64.0 L268.4,64.6 L268.8,64.6 L269.2,63.0 L269.6,60.6 L270.0,61.9 L270.4,64.3 L270.8,64.8 L271.2,64.6 L271.6,60.6 L272.0,64.7 L272.4,67.6 L272.8,60.6 L273.2,63.9 L273.6,61.4 L274.0,62.3 L274.4,69.1 L274.8,57.5 L275.2,69.3 L275.6,64.3 L276.0,66.6 L276.4,63.1 L276.8,65.7 L277.2,63.2 L277.6,64.6 L278.0,66.2 L278.4,64.0 L278.8,61.5 L279.2,61.0 L279.6,66.4 L280.0,63.5 L280.4,67.5 L280.8,66.3 L281.2,59.0 L281.6,59.4 L282.0,59.2 L282.4,64.6 L282.8,58.4 L283.2,55.1 L283.6,64.1 L284.0,64.8 L284.4,60.8 L284.8,62.6 L285.2,63.2 L285.6,67.2 L286.0,70.0 L286.4,68.8 L286.8,60.8 L287.2,63.7 L287.6,66.1 L288.0,60.4 L288.4,65.0 L288.8,60.8 L289.2,66.3 L289.6,64.2 L290.0,60.7 L290.4,61.3 L290.8,65.3 L291.2,67.4 L291.6,64.3 L292.0,67.1 L292.4,68.2 L292.8,70.0 L293.2,56.0 L293.6,61.1 L294.0,65.4 L294.4,75.5 L294.8,69.3 L295.2,67.0 L295.6,70.2 L296.0,64.6 L296.4,67.0 L296.8,65.6 L297.2,74.6 L297.6,75.0 L298.0,73.5 L298.4,71.2 L298.8,65.2 L299.2,70.4 L299.6,63.0 L300.0,60.8 L300.4,68.1 L300.8,65.9 L301.2,69.7 L301.6,69.2 L302.0,74.2 L302.4,73.6 L302.8,70.9 L303.2,78.4 L303.6,72.1 L304.0,76.2 L304.4,74.2 L304.8,74.7 L305.2,74.5 L305.6,73.6 L306.0,75.9 L306.4,78.3 L306.8,73.5 L307.2,77.2 L307.6,81.8 L308.0,77.4 L308.4,78.3 L308.8,79.5 L309.2,72.4 L309.6,78.5 L310.0,78.9 L310.4,82.7 L310.8,84.2 L311.2,80.2 L311.6,88.0 L312.0,84.8 L312.4,89.4 L312.8,88.2 L313.2,86.0 L313.6,86.8 L314.0,84.0 L314.4,85.3 L314.8,85.8 L315.2,92.0 L315.6,87.8 L316.0,87.3 L316.4,93.1 L316.8,89.4 L317.2,90.0 L317.6,91.3 L318.0,90.7 L318.4,89.7 L318.8,91.4 L319.2,90.0 L319.6,90.0 L320.0,90.5 L320.4,97.2 L320.8,96.5 L321.2,96.6 L321.6,95.8 L322.0,95.8 L322.4,99.5 L322.8,100.8 L323.2,97.9 L323.6,104.5 L324.0,102.0 L324.4,99.5 L324.8,100.7 L325.2,104.8 L325.6,105.0 L326.0,102.7 L326.4,103.7 L326.8,104.4 L327.2,103.3 L327.6,106.4 L328.0,107.1 L328.4,108.6 L328.8,110.0 L329.2,108.4 L329.6,112.6 L330.0,112.4 L330.4,105.2 L330.8,110.7 L331.2,110.9 L331.6,110.2 L332.0,113.4 L332.4,111.7 L332.8,111.9 L333.2,112.1 L333.6,116.8 L334.0,117.3 L334.4,119.9 L334.8,120.6 L335.2,121.2 L335.6,117.1 L336.0,118.7 L336.4,124.3 L336.8,120.3 L337.2,120.8 L337.6,123.5 L338.0,122.9 L338.4,124.3 L338.8,123.6 L339.2,125.2 L339.6,122.2 L340.0,127.9 L340.4,127.2 L340.8,124.8 L341.2,126.2 L341.6,133.7 L342.0,132.2 L342.4,134.0 L342.8,136.9 L343.2,135.2 L343.6,138.7 L344.0,135.6 L344.4,140.6 L344.8,138.1 L345.2,138.5 L345.6,137.2 L346.0,140.0 L346.4,140.8 L346.8,140.7 L347.2,143.6 L347.6,146.6 L348.0,142.7 L348.4,142.1 L348.8,145.2 L349.2,145.2 L349.6,148.6 L350.0,150.1 L350.4,152.3 L350.8,150.9 L351.2,153.6 L351.6,150.7 L352.0,153.5 L352.4,153.1 L352.8,155.8 L353.2,158.5 L353.6,157.0 L354.0,157.0 L354.4,158.4 L354.8,162.4 L355.2,159.3 L355.6,160.9 L356.0,162.1 L356.4,161.9 L356.8,162.1 L357.2,163.3 L357.6,165.8 L358.0,162.6 L358.4,162.4 L358.8,163.9 L359.2,162.9 L359.6,166.3 L360.0,168.3 L360.4,167.4 L360.8,168.2 L361.2,165.7 L361.6,169.1 L362.0,169.6 L362.4,171.6 L362.8,168.5 L363.2,172.0 L363.6,172.9 L364.0,169.4 L364.4,173.7 L364.8,172.1 L365.2,170.3 L365.6,174.9 L366.0,172.0 L366.4,174.6 L366.8,176.6 L367.2,176.8 L367.6,175.9 L368.0,178.1 L368.4,177.5 L368.8,178.7 L369.2,180.4 L369.6,178.7 L370.0,181.0 L370.4,181.4 L370.8,180.6 L371.2,181.2 L371.6,184.4 L372.0,184.0 L372.4,182.7 L372.8,187.4 L373.2,185.0 L373.6,187.7 L374.0,188.3 L374.4,188.4 L374.8,186.2 L375.2,188.9 L375.6,189.0 L376.0,188.4 L376.4,189.3 L376.8,188.7 L377.2,190.9 L377.6,189.2 L378.0,191.5 L378.4,191.9 L378.8,192.6 L379.2,192.0 L379.6,195.0 L380.0,194.2 L380.4,193.0 L380.8,192.6 L381.2,194.6 L381.6,195.3 L382.0,196.2 L382.4,196.8 L382.8,198.7 L383.2,199.6 L383.6,200.3 L384.0,198.9 L384.4,199.8 L384.8,200.2 L385.2,201.2 L385.6,200.2 L386.0,202.1 L386.4,202.3 L386.8,204.3 L387.2,204.0 L387.6,205.0 L388.0,206.0 L388.4,205.1 L388.8,207.2 L389.2,204.1 L389.6,206.0 L390.0,207.5 L390.4,205.7 L390.8,208.0 L391.2,206.6 L391.6,208.5 L392.0,207.5 L392.4,210.1 L392.8,209.5 L393.2,209.9 L393.6,213.0 L394.0,210.8 L394.4,211.5 L394.8,211.7 L395.2,211.5 L395.6,211.9 L396.0,211.4 L396.4,212.1 L396.8,210.9 L397.2,208.8 L397.6,207.9 L398.0,211.9 L398.4,212.0 L398.8,213.7 L399.2,214.2 L399.6,215.5 L400.0,215.7 L400.4,216.8 L400.8,215.3 L401.2,213.6 L401.6,216.6 L402.0,214.8 L402.4,215.4 L402.8,217.2 L403.2,215.5 L403.6,217.3 L404.0,219.5 L404.4,218.7 L404.8,218.9 L405.2,218.9 L405.6,217.1 L406.0,217.4 L406.4,218.1 L406.8,220.8 L407.2,219.1 L407.6,220.6 L408.0,220.9 L408.4,222.1 L408.8,219.6 L409.2,220.3 L409.6,219.5 L410.0,221.2 L410.4,219.0 L410.8,221.5 L411.2,222.1 L411.6,222.6 L412.0,221.0 L412.4,222.2 L412.8,222.2 L413.2,221.4 L413.6,223.4 L414.0,221.5 L414.4,224.8 L414.8,223.8 L415.2,224.1 L415.6,222.1 L416.0,225.9 L416.4,225.2 L416.8,225.8 L417.2,224.0 L417.6,224.5 L418.0,223.1 L418.4,226.2 L418.8,225.9 L419.2,225.7 L419.6,225.6 L420.0,226.0 L420.4,225.1 L420.8,227.0 L421.2,226.2 L421.6,226.1 L422.0,226.5 L422.4,229.6 L422.8,227.6 L423.2,229.9 L423.6,227.2 L424.0,228.3 L424.4,227.8 L424.8,229.0 L425.2,228.6 L425.6,227.0 L426.0,227.3 L426.4,226.6 L426.8,229.0 L427.2,228.6 L427.6,228.4 L428.0,227.6 L428.4,228.0 L428.8,228.4 L429.2,229.6 L429.6,229.5 L430.0,230.8 L430.4,229.5 L430.8,231.4 L431.2,233.5 L431.6,233.5 L432.0,231.3 L432.4,231.8 L432.8,232.7 L433.2,231.2 L433.6,231.2 L434.0,232.2 L434.4,232.9 L434.8,230.4 L435.2,230.5 L435.6,230.6 L436.0,230.0 L436.4,230.9 L436.8,231.8 L437.2,230.2 L437.6,230.2 L438.0,233.0 L438.4,233.3 L438.8,231.3 L439.2,234.1 L439.6,234.4 L440.0,233.3 L440.4,233.7 L440.8,232.8 L441.2,235.1 L441.6,233.5 L442.0,234.1 L442.4,234.0 L442.8,235.4 L443.2,233.2 L443.6,233.8 L444.0,235.6 L444.4,236.2 L444.8,235.3 L445.2,234.4 L445.6,235.8 L446.0,235.1 L446.4,234.6 L446.8,236.0 L447.2,233.9 L447.6,235.1 L448.0,236.1 L448.4,235.8 L448.8,236.3 L449.2,236.4 L449.6,235.3 L450.0,235.8 L450.4,235.4 L450.8,235.6 L451.2,236.0 L451.6,237.2 L452.0,235.9 L452.4,238.3 L452.8,235.2 L453.2,237.4 L453.6,236.7 L454.0,238.1 L454.4,237.8 L454.8,238.0 L455.2,235.9 L455.6,238.0 L456.0,237.0 L456.4,235.3 L456.8,237.7 L457.2,238.4 L457.6,237.8 L458.0,236.6 L458.4,238.4 L458.8,236.3 L459.2,236.8 L459.6,238.0 L460.0,237.9 L460.4,234.7 L460.8,238.1 L461.2,236.2 L461.6,237.7 L462.0,236.9 L462.4,236.9 L462.8,237.2 L463.2,238.5 L463.6,237.8 L464.0,237.7 L464.4,237.5 L464.8,237.3 L465.2,237.9 L465.6,238.0 L466.0,237.4 L466.4,237.7 L466.8,238.5 L467.2,238.6 L467.6,237.1 L468.0,236.9 L468.4,238.1 L468.8,236.2 L469.2,238.7 L469.6,237.0 L470.0,237.8 L470.4,238.4 L470.8,239.0 L471.2,239.7 L471.6,237.6 L472.0,240.8 L472.4,239.7 L472.8,239.9 L473.2,239.6 L473.6,240.5 L474.0,240.7 L474.4,238.6 L474.8,237.5 L475.2,238.1 L475.6,240.4 L476.0,239.0 L476.4,238.2 L476.8,239.1 L477.2,239.3 L477.6,238.9 L478.0,238.8 L478.4,239.1 L478.8,237.0 L479.2,238.5 L479.6,237.3 L480.0,238.0 L480.4,237.3 L480.8,238.5 L481.2,238.6 L481.6,241.4 L482.0,241.8 L482.4,240.8 L482.8,240.9 L483.2,241.1 L483.6,241.9 L484.0,239.5 L484.4,240.0 L484.8,239.4 L485.2,240.5 L485.6,241.0 L486.0,240.4 L486.4,239.9 L486.8,240.5 L487.2,238.9 L487.6,240.1 L488.0,240.5 L488.4,239.8 L488.8,239.3 L489.2,240.9 L489.6,240.0 L490.0,241.7 L490.4,239.5 L490.8,240.4 L491.2,242.7 L491.6,239.7 L492.0,241.1 L492.4,239.9 L492.8,240.7 L493.2,240.9 L493.6,241.9 L494.0,239.8 L494.4,238.5 L494.8,239.0 L495.2,239.7 L495.6,241.7 L496.0,240.2 L496.4,240.4 L496.8,240.9 L497.2,241.1 L497.6,240.8 L498.0,241.2 L498.4,242.2 L498.8,242.6 L499.2,241.1 L499.6,240.8 L500.0,242.1 L500.4,240.3 L500.8,241.0 L501.2,240.6 L501.6,240.8 L502.0,241.6 L502.4,241.9 L502.8,241.4 L503.2,241.9 L503.6,243.2 L504.0,243.2 L504.4,242.9 L504.8,244.6 L505.2,241.6 L505.6,242.7 L506.0,241.9 L506.4,243.5 L506.8,241.1 L507.2,242.4 L507.6,243.6 L508.0,243.7 L508.4,244.8 L508.8,242.2 L509.2,241.5 L509.6,242.3 L510.0,241.0 L510.4,243.9 L510.8,242.5 L511.2,242.2 L511.6,243.0 L512.0,241.8 L512.4,242.1 L512.8,241.4 L513.2,243.6 L513.6,242.8 L514.0,242.9 L514.4,242.7 L514.8,243.5 L515.2,243.5 L515.6,243.8 L516.0,243.8 L516.4,243.0 L516.8,244.2 L517.2,243.3 L517.6,243.8 L518.0,244.2 L518.4,244.4 L518.8,243.7 L519.2,244.3 L519.6,244.1 L520.0,245.0 L520.4,243.3 L520.8,243.9 L521.2,246.1 L521.6,246.2 L522.0,247.1 L522.4,245.6 L522.8,245.9 L523.2,246.6 L523.6,246.8 L524.0,246.1 L524.4,244.8 L524.8,244.5 L525.2,247.4 L525.6,245.9 L526.0,245.6 L526.4,246.5 L526.8,246.4 L527.2,245.6 L527.6,246.0 L528.0,247.3 L528.4,246.9 L528.8,248.2 L529.2,247.1 L529.6,247.3 L530.0,246.9 L530.4,246.4 L530.8,245.3 L531.2,246.6 L531.6,245.8 L532.0,247.5 L532.4,247.1 L532.8,248.1 L533.2,247.3 L533.6,246.8 L534.0,249.3 L534.4,249.2 L534.8,250.7 L535.2,249.9 L535.6,250.6 L536.0,250.2 L536.4,250.5 L536.8,250.7 L537.2,249.8 L537.6,249.7 L538.0,249.3 L538.4,249.8 L538.8,249.9 L539.2,251.1 L539.6,250.5 L540.0,250.8 L540.4,251.2 L540.8,250.5 L541.2,252.0 L541.6,252.5 L542.0,251.4 L542.4,252.4 L542.8,251.0 L543.2,250.4 L543.6,251.4 L544.0,251.2 L544.4,251.4 L544.8,250.6 L545.2,251.7 L545.6,251.0 L546.0,251.4 L546.4,251.8 L546.8,253.9 L547.2,253.2 L547.6,252.8 L548.0,252.6 L548.4,251.8 L548.8,255.1 L549.2,253.6 L549.6,253.3 L550.0,253.6 L550.4,252.9 L550.8,253.1 L551.2,253.9 L551.6,252.3 L552.0,253.9 L552.4,252.3 L552.8,255.0 L553.2,253.0 L553.6,254.7 L554.0,254.2 L554.4,254.6 L554.8,255.0 L555.2,253.5 L555.6,253.2 L556.0,255.3 L556.4,255.0 L556.8,254.7 L557.2,256.2 L557.6,254.6 L558.0,254.9 L558.4,255.1 L558.8,256.9 L559.2,255.8 L559.6,255.5 L560.0,256.7 L560.4,256.1 L560.8,257.4 L561.2,256.1 L561.6,255.6 L562.0,255.7 L562.4,257.6 L562.8,256.5 L563.2,255.8 L563.6,256.8 L564.0,256.7 L564.4,256.5 L564.8,255.8 L565.2,256.1 L565.6,256.9 L566.0,257.5 L566.4,258.2 L566.8,258.6 L567.2,258.9 L567.6,258.0 L568.0,259.0 L568.4,257.8 L568.8,257.7 L569.2,257.6 L569.6,258.6 L570.0,258.1 L570.4,258.7 L570.8,259.3 L571.2,257.6 L571.6,259.3 L572.0,258.8 L572.4,258.0 L572.8,258.7 L573.2,258.2 L573.6,258.7 L574.0,258.1 L574.4,257.8 L574.8,259.5 L575.2,259.1 L575.6,259.6 L576.0,258.2 L576.4,259.4 L576.8,258.3 L577.2,258.4 L577.6,259.9 L578.0,259.9 L578.4,259.8 L578.8,260.3 L579.2,260.2 L579.6,260.9 L580.0,260.0 L580.4,260.9 L580.8,260.5 L581.2,260.4 L581.6,260.7 L582.0,259.9 L582.4,261.1 L582.8,261.4 L583.2,262.0 L583.6,260.4 L584.0,261.7 L584.4,261.5 L584.8,262.1 L585.2,262.8 L585.6,262.3 L586.0,260.4 L586.4,261.4 L586.8,260.9 L587.2,261.8 L587.6,261.0 L588.0,261.6 L588.4,262.6 L588.8,262.8 L589.2,262.9 L589.6,263.5 L590.0,261.6 L590.4,261.8 L590.8,263.4 L591.2,261.7 L591.6,262.6 L592.0,262.7 L592.4,261.6 L592.8,261.4 L593.2,263.3 L593.6,261.7 L594.0,262.7 L594.4,263.0 L594.8,262.1 L595.2,263.3 L595.6,263.2 L596.0,263.4 L596.4,264.8 L596.8,263.5 L597.2,264.1 L597.6,264.6 L598.0,264.1 L598.4,263.2 L598.8,265.1 L599.2,264.6 L599.6,265.0 L600.0,265.2 L600.4,264.1 L600.8,265.1 L601.2,265.4 L601.6,267.0 L602.0,266.2 L602.4,265.9 L602.8,266.7 L603.2,265.4 L603.6,267.1 L604.0,265.2 L604.4,267.2 L604.8,266.6 L605.2,264.5 L605.6,267.2 L606.0,265.2 L606.4,268.9 L606.8,266.3 L607.2,265.8 L607.6,266.8 L608.0,267.0 L608.4,266.9 L608.8,266.1 L609.2,265.6 L609.6,266.9 L610.0,265.2 L610.4,266.2 L610.8,266.1 L611.2,266.7 L611.6,267.7 L612.0,267.9 L612.4,267.2 L612.8,268.5 L613.2,267.0 L613.6,267.5 L614.0,267.3 L614.4,265.6 L614.8,268.2 L615.2,267.3 L615.6,268.5 L616.0,268.5 L616.4,267.5 L616.8,267.9 L617.2,267.3 L617.6,267.1 L618.0,268.6 L618.4,269.5 L618.8,268.5 L619.2,267.8 L619.6,268.9 L620.0,267.3 L620.4,267.1 L620.8,266.4 L621.2,267.0 L621.6,269.2 L622.0,267.5 L622.4,267.7 L622.8,267.5 L623.2,268.5 L623.6,269.0 L624.0,267.9 L624.4,268.0 L624.8,267.4 L625.2,269.0 L625.6,267.9 L626.0,267.8 L626.4,269.5 L626.8,268.3 L627.2,269.2 L627.6,268.8 L628.0,268.9 L628.4,269.3 L628.8,268.2 L629.2,267.8 L629.6,269.8 L630.0,269.6 L630.4,268.6 L630.8,269.9 L631.2,270.1 L631.6,269.3 L632.0,268.9 L632.4,270.5 L632.8,268.9 L633.2,269.6 L633.6,270.3 L634.0,270.4 L634.4,270.7 L634.8,269.6 L635.2,270.4 L635.6,270.4 L636.0,269.8 L636.4,271.0 L636.8,270.5 L637.2,270.1 L637.6,270.4 L638.0,271.7 L638.4,270.5 L638.8,271.2 L639.2,270.5 L639.6,270.5 L640.0,271.2 L640.4,271.2 L640.8,271.8 L641.2,271.1 L641.6,270.5 L642.0,271.4 L642.4,271.4 L642.8,270.7 L643.2,270.9 L643.6,271.0 L644.0,270.7 L644.4,269.9 L644.8,271.6 L645.2,270.9 L645.6,270.3 L646.0,271.9 L646.4,272.8 L646.8,271.5 L647.2,271.4 L647.6,272.1 L648.0,271.6 L648.4,271.2 L648.8,270.7 L649.2,271.6 L649.6,270.9 L650.0,271.9 L650.4,269.1 L650.8,271.0 L651.2,270.9 L651.6,271.6 L652.0,270.5 L652.4,272.5 L652.8,270.8 L653.2,271.5 L653.6,271.1 L654.0,273.7 L654.4,271.3 L654.8,272.6 L655.2,271.3 L655.6,272.0 L656.0,272.8 L656.4,272.5 L656.8,274.5 L657.2,274.3 L657.6,272.5 L658.0,274.4 L658.4,274.5 L658.8,274.4 L659.2,276.2 L659.6,272.9 L660.0,274.1 L660.4,273.4 L660.8,274.8 L661.2,274.1 L661.6,273.0 L662.0,274.6 L662.4,273.8 L662.8,273.2 L663.2,274.4 L663.6,274.4 L664.0,274.4 L664.4,273.8 L664.8,274.3 L665.2,274.1 L665.6,276.2 L666.0,275.2 L666.4,276.3 L666.8,275.0 L667.2,276.4 L667.6,275.1 L668.0,276.2 L668.4,274.8 L668.8,274.5 L669.2,273.9 L669.6,274.3 L670.0,273.7 L670.4,274.3 L670.8,274.2 L671.2,273.4 L671.6,274.1 L672.0,274.2 L672.4,274.0 L672.8,273.2 L673.2,274.9 L673.6,275.2 L674.0,275.3 L674.4,275.7 L674.8,275.3 L675.2,275.0 L675.6,274.9 L676.0,276.6 L676.4,274.8 L676.8,275.2 L677.2,275.4 L677.6,274.9 L678.0,275.8 L678.4,277.0 L678.8,275.5 L679.2,276.3 L679.6,274.3 L680.0,276.8 L680.4,275.8 L680.8,275.8 L681.2,276.0 L681.6,275.9 L682.0,276.2 L682.4,275.9 L682.8,276.0 L683.2,276.4 L683.6,277.2 L684.0,276.8 L684.4,275.6 L684.8,276.1 L685.2,278.2 L685.6,277.4 L686.0,277.8 L686.4,275.7 L686.8,277.1 L687.2,277.8 L687.6,276.4 L688.0,276.1 L688.4,275.7 L688.8,278.4 L689.2,278.2 L689.6,278.6 L690.0,276.9" fill="none" stroke="#2eaa68" stroke-width="5.4" stroke-linejoin="round" stroke-linecap="butt"/>
<text x="276" y="618" class="ax">2<tspan font-style="italic">θ</tspan> (degree)</text>
<text transform="translate(37.6,404) rotate(-90)" class="ax">Intensity (a.u.)</text>
<g>
<line x1="410" y1="52.2" x2="462" y2="52.2" stroke="#4d4d4d" stroke-width="4.5" stroke-linecap="round"/>
<line x1="410" y1="85.5" x2="462" y2="85.5" stroke="#ee3b3b" stroke-width="4.5" stroke-linecap="round"/>
<line x1="410" y1="118.2" x2="462" y2="118.2" stroke="#176ae0" stroke-width="4.5" stroke-linecap="round"/>
<line x1="410" y1="151.3" x2="462" y2="151.3" stroke="#2eaa68" stroke-width="4.5" stroke-linecap="round"/>
<text x="476" y="62.2" class="lg">ODA-PMDA</text>
<text x="469" y="96" class="lg">5a<tspan class="r">1</tspan>-ODA<tspan class="r">9</tspan>-PMDA</text>
<text x="469" y="127.9" class="lg">5a<tspan class="r">2</tspan>-ODA<tspan class="r">8</tspan>-PMDA</text>
<text x="469" y="160.9" class="lg">5a<tspan class="r">4</tspan>-ODA<tspan class="r">6</tspan>-PMDA</text>
</g>
</svg>
</body></html>
